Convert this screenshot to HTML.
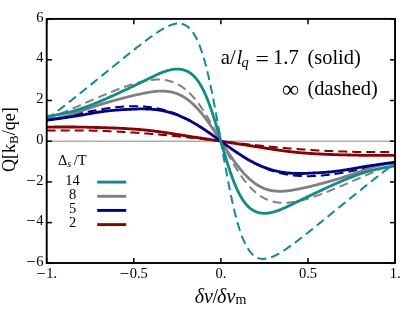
<!DOCTYPE html>
<html><head><meta charset="utf-8"><title>plot</title>
<style>
html,body{margin:0;padding:0;background:#fff;}
body{width:415px;height:310px;overflow:hidden;}
svg{display:block;}
text{font-family:"Liberation Serif",serif;fill:#000;}
.txt{will-change:transform;}
.tk{font-size:14.5px;}
.it{font-style:italic;}
</style></head><body>
<svg width="415" height="310" viewBox="0 0 415 310">
<rect x="0" y="0" width="415" height="310" fill="#fff"/>
<line x1="46.7" y1="141.2" x2="395.1" y2="141.2" stroke="#848484" stroke-width="1"/>
<g>
<polyline points="46.7,130.6 47.1,130.5 47.6,130.5 48.0,130.5 48.4,130.5 48.9,130.5 49.3,130.5 49.7,130.5 50.2,130.5 50.6,130.5 51.1,130.5 51.5,130.5 51.9,130.5 52.4,130.5 52.8,130.5 53.2,130.4 53.7,130.4 54.1,130.4 54.5,130.4 55.0,130.4 55.4,130.4 55.8,130.4 56.3,130.4 56.7,130.4 57.2,130.4 57.6,130.4 58.0,130.4 58.5,130.4 58.9,130.4 59.3,130.4 59.8,130.4 60.2,130.4 60.6,130.4 61.1,130.4 61.5,130.4 61.9,130.4 62.4,130.4 62.8,130.4 63.2,130.4 63.7,130.4 64.1,130.4 64.6,130.4 65.0,130.4 65.4,130.4 65.9,130.4 66.3,130.4 66.7,130.4 67.2,130.4 67.6,130.4 68.0,130.4 68.5,130.4 68.9,130.4 69.3,130.4 69.8,130.4 70.2,130.4 70.7,130.4 71.1,130.4 71.5,130.4 72.0,130.4 72.4,130.4 72.8,130.4 73.3,130.4 73.7,130.4 74.1,130.4 74.6,130.4 75.0,130.4 75.4,130.4 75.9,130.4 76.3,130.4 76.7,130.4 77.2,130.4 77.6,130.4 78.1,130.4 78.5,130.4 78.9,130.4 79.4,130.4 79.8,130.4 80.2,130.4 80.7,130.4 81.1,130.4 81.5,130.5 82.0,130.5 82.4,130.5 82.8,130.5 83.3,130.5 83.7,130.5 84.2,130.5 84.6,130.5 85.0,130.5 85.5,130.5 85.9,130.5 86.3,130.5 86.8,130.5 87.2,130.5 87.6,130.6 88.1,130.6 88.5,130.6 88.9,130.6 89.4,130.6 89.8,130.6 90.3,130.6 90.7,130.6 91.1,130.6 91.6,130.6 92.0,130.7 92.4,130.7 92.9,130.7 93.3,130.7 93.7,130.7 94.2,130.7 94.6,130.7 95.0,130.7 95.5,130.7 95.9,130.8 96.3,130.8 96.8,130.8 97.2,130.8 97.7,130.8 98.1,130.8 98.5,130.8 99.0,130.8 99.4,130.9 99.8,130.9 100.3,130.9 100.7,130.9 101.1,130.9 101.6,130.9 102.0,130.9 102.4,131.0 102.9,131.0 103.3,131.0 103.8,131.0 104.2,131.0 104.6,131.0 105.1,131.1 105.5,131.1 105.9,131.1 106.4,131.1 106.8,131.1 107.2,131.1 107.7,131.2 108.1,131.2 108.5,131.2 109.0,131.2 109.4,131.2 109.8,131.3 110.3,131.3 110.7,131.3 111.2,131.3 111.6,131.3 112.0,131.3 112.5,131.4 112.9,131.4 113.3,131.4 113.8,131.4 114.2,131.4 114.6,131.5 115.1,131.5 115.5,131.5 115.9,131.5 116.4,131.6 116.8,131.6 117.3,131.6 117.7,131.6 118.1,131.6 118.6,131.7 119.0,131.7 119.4,131.7 119.9,131.7 120.3,131.8 120.7,131.8 121.2,131.8 121.6,131.8 122.0,131.8 122.5,131.9 122.9,131.9 123.3,131.9 123.8,131.9 124.2,132.0 124.7,132.0 125.1,132.0 125.5,132.0 126.0,132.1 126.4,132.1 126.8,132.1 127.3,132.2 127.7,132.2 128.1,132.2 128.6,132.2 129.0,132.3 129.4,132.3 129.9,132.3 130.3,132.3 130.8,132.4 131.2,132.4 131.6,132.4 132.1,132.5 132.5,132.5 132.9,132.5 133.4,132.5 133.8,132.6 134.2,132.6 134.7,132.6 135.1,132.7 135.5,132.7 136.0,132.7 136.4,132.7 136.8,132.8 137.3,132.8 137.7,132.8 138.2,132.9 138.6,132.9 139.0,132.9 139.5,133.0 139.9,133.0 140.3,133.0 140.8,133.1 141.2,133.1 141.6,133.1 142.1,133.2 142.5,133.2 142.9,133.2 143.4,133.3 143.8,133.3 144.3,133.3 144.7,133.4 145.1,133.4 145.6,133.4 146.0,133.5 146.4,133.5 146.9,133.5 147.3,133.6 147.7,133.6 148.2,133.6 148.6,133.7 149.0,133.7 149.5,133.7 149.9,133.8 150.3,133.8 150.8,133.8 151.2,133.9 151.7,133.9 152.1,133.9 152.5,134.0 153.0,134.0 153.4,134.1 153.8,134.1 154.3,134.1 154.7,134.2 155.1,134.2 155.6,134.2 156.0,134.3 156.4,134.3 156.9,134.4 157.3,134.4 157.8,134.4 158.2,134.5 158.6,134.5 159.1,134.6 159.5,134.6 159.9,134.6 160.4,134.7 160.8,134.7 161.2,134.8 161.7,134.8 162.1,134.8 162.5,134.9 163.0,134.9 163.4,135.0 163.8,135.0 164.3,135.0 164.7,135.1 165.2,135.1 165.6,135.2 166.0,135.2 166.5,135.2 166.9,135.3 167.3,135.3 167.8,135.4 168.2,135.4 168.6,135.4 169.1,135.5 169.5,135.5 169.9,135.6 170.4,135.6 170.8,135.7 171.3,135.7 171.7,135.7 172.1,135.8 172.6,135.8 173.0,135.9 173.4,135.9 173.9,136.0 174.3,136.0 174.7,136.1 175.2,136.1 175.6,136.1 176.0,136.2 176.5,136.2 176.9,136.3 177.4,136.3 177.8,136.4 178.2,136.4 178.7,136.5 179.1,136.5 179.5,136.5 180.0,136.6 180.4,136.6 180.8,136.7 181.3,136.7 181.7,136.8 182.1,136.8 182.6,136.9 183.0,136.9 183.4,137.0 183.9,137.0 184.3,137.0 184.8,137.1 185.2,137.1 185.6,137.2 186.1,137.2 186.5,137.3 186.9,137.3 187.4,137.4 187.8,137.4 188.2,137.5 188.7,137.5 189.1,137.6 189.5,137.6 190.0,137.7 190.4,137.7 190.9,137.8 191.3,137.8 191.7,137.9 192.2,137.9 192.6,138.0 193.0,138.0 193.5,138.0 193.9,138.1 194.3,138.1 194.8,138.2 195.2,138.2 195.6,138.3 196.1,138.3 196.5,138.4 196.9,138.4 197.4,138.5 197.8,138.5 198.3,138.6 198.7,138.6 199.1,138.7 199.6,138.7 200.0,138.8 200.4,138.8 200.9,138.9 201.3,138.9 201.7,139.0 202.2,139.0 202.6,139.1 203.0,139.1 203.5,139.2 203.9,139.2 204.4,139.3 204.8,139.3 205.2,139.4 205.7,139.4 206.1,139.5 206.5,139.5 207.0,139.6 207.4,139.6 207.8,139.7 208.3,139.7 208.7,139.8 209.1,139.8 209.6,139.9 210.0,139.9 210.4,140.0 210.9,140.0 211.3,140.1 211.8,140.1 212.2,140.2 212.6,140.2 213.1,140.3 213.5,140.3 213.9,140.4 214.4,140.4 214.8,140.5 215.2,140.5 215.7,140.6 216.1,140.6 216.5,140.7 217.0,140.7 217.4,140.8 217.9,140.8 218.3,140.9 218.7,140.9 219.2,141.0 219.6,141.0 220.0,141.1 220.5,141.1 220.9,141.2 221.3,141.3 221.8,141.3 222.2,141.4 222.6,141.4 223.1,141.5 223.5,141.5 223.9,141.6 224.4,141.6 224.8,141.7 225.3,141.7 225.7,141.8 226.1,141.8 226.6,141.9 227.0,141.9 227.4,142.0 227.9,142.0 228.3,142.1 228.7,142.1 229.2,142.2 229.6,142.2 230.0,142.3 230.5,142.3 230.9,142.4 231.4,142.4 231.8,142.5 232.2,142.5 232.7,142.6 233.1,142.6 233.5,142.7 234.0,142.7 234.4,142.8 234.8,142.8 235.3,142.9 235.7,142.9 236.1,143.0 236.6,143.0 237.0,143.1 237.4,143.1 237.9,143.2 238.3,143.2 238.8,143.3 239.2,143.3 239.6,143.4 240.1,143.4 240.5,143.5 240.9,143.5 241.4,143.6 241.8,143.6 242.2,143.7 242.7,143.7 243.1,143.8 243.5,143.8 244.0,143.9 244.4,143.9 244.9,144.0 245.3,144.0 245.7,144.1 246.2,144.1 246.6,144.2 247.0,144.2 247.5,144.3 247.9,144.3 248.3,144.4 248.8,144.4 249.2,144.4 249.6,144.5 250.1,144.5 250.5,144.6 250.9,144.6 251.4,144.7 251.8,144.7 252.3,144.8 252.7,144.8 253.1,144.9 253.6,144.9 254.0,145.0 254.4,145.0 254.9,145.1 255.3,145.1 255.7,145.2 256.2,145.2 256.6,145.3 257.0,145.3 257.5,145.4 257.9,145.4 258.4,145.4 258.8,145.5 259.2,145.5 259.7,145.6 260.1,145.6 260.5,145.7 261.0,145.7 261.4,145.8 261.8,145.8 262.3,145.9 262.7,145.9 263.1,145.9 263.6,146.0 264.0,146.0 264.4,146.1 264.9,146.1 265.3,146.2 265.8,146.2 266.2,146.3 266.6,146.3 267.1,146.3 267.5,146.4 267.9,146.4 268.4,146.5 268.8,146.5 269.2,146.6 269.7,146.6 270.1,146.7 270.5,146.7 271.0,146.7 271.4,146.8 271.9,146.8 272.3,146.9 272.7,146.9 273.2,147.0 273.6,147.0 274.0,147.0 274.5,147.1 274.9,147.1 275.3,147.2 275.8,147.2 276.2,147.2 276.6,147.3 277.1,147.3 277.5,147.4 278.0,147.4 278.4,147.4 278.8,147.5 279.3,147.5 279.7,147.6 280.1,147.6 280.6,147.6 281.0,147.7 281.4,147.7 281.9,147.8 282.3,147.8 282.7,147.8 283.2,147.9 283.6,147.9 284.0,148.0 284.5,148.0 284.9,148.0 285.4,148.1 285.8,148.1 286.2,148.2 286.7,148.2 287.1,148.2 287.5,148.3 288.0,148.3 288.4,148.3 288.8,148.4 289.3,148.4 289.7,148.5 290.1,148.5 290.6,148.5 291.0,148.6 291.5,148.6 291.9,148.6 292.3,148.7 292.8,148.7 293.2,148.7 293.6,148.8 294.1,148.8 294.5,148.8 294.9,148.9 295.4,148.9 295.8,148.9 296.2,149.0 296.7,149.0 297.1,149.0 297.5,149.1 298.0,149.1 298.4,149.1 298.9,149.2 299.3,149.2 299.7,149.2 300.2,149.3 300.6,149.3 301.0,149.3 301.5,149.4 301.9,149.4 302.3,149.4 302.8,149.5 303.2,149.5 303.6,149.5 304.1,149.6 304.5,149.6 305.0,149.6 305.4,149.7 305.8,149.7 306.3,149.7 306.7,149.7 307.1,149.8 307.6,149.8 308.0,149.8 308.4,149.9 308.9,149.9 309.3,149.9 309.7,149.9 310.2,150.0 310.6,150.0 311.0,150.0 311.5,150.1 311.9,150.1 312.4,150.1 312.8,150.1 313.2,150.2 313.7,150.2 314.1,150.2 314.5,150.2 315.0,150.3 315.4,150.3 315.8,150.3 316.3,150.4 316.7,150.4 317.1,150.4 317.6,150.4 318.0,150.5 318.5,150.5 318.9,150.5 319.3,150.5 319.8,150.6 320.2,150.6 320.6,150.6 321.1,150.6 321.5,150.6 321.9,150.7 322.4,150.7 322.8,150.7 323.2,150.7 323.7,150.8 324.1,150.8 324.5,150.8 325.0,150.8 325.4,150.8 325.9,150.9 326.3,150.9 326.7,150.9 327.2,150.9 327.6,151.0 328.0,151.0 328.5,151.0 328.9,151.0 329.3,151.0 329.8,151.1 330.2,151.1 330.6,151.1 331.1,151.1 331.5,151.1 332.0,151.1 332.4,151.2 332.8,151.2 333.3,151.2 333.7,151.2 334.1,151.2 334.6,151.3 335.0,151.3 335.4,151.3 335.9,151.3 336.3,151.3 336.7,151.3 337.2,151.4 337.6,151.4 338.0,151.4 338.5,151.4 338.9,151.4 339.4,151.4 339.8,151.5 340.2,151.5 340.7,151.5 341.1,151.5 341.5,151.5 342.0,151.5 342.4,151.5 342.8,151.6 343.3,151.6 343.7,151.6 344.1,151.6 344.6,151.6 345.0,151.6 345.5,151.6 345.9,151.6 346.3,151.7 346.8,151.7 347.2,151.7 347.6,151.7 348.1,151.7 348.5,151.7 348.9,151.7 349.4,151.7 349.8,151.7 350.2,151.8 350.7,151.8 351.1,151.8 351.5,151.8 352.0,151.8 352.4,151.8 352.9,151.8 353.3,151.8 353.7,151.8 354.2,151.8 354.6,151.9 355.0,151.9 355.5,151.9 355.9,151.9 356.3,151.9 356.8,151.9 357.2,151.9 357.6,151.9 358.1,151.9 358.5,151.9 359.0,151.9 359.4,151.9 359.8,151.9 360.3,151.9 360.7,152.0 361.1,152.0 361.6,152.0 362.0,152.0 362.4,152.0 362.9,152.0 363.3,152.0 363.7,152.0 364.2,152.0 364.6,152.0 365.1,152.0 365.5,152.0 365.9,152.0 366.4,152.0 366.8,152.0 367.2,152.0 367.7,152.0 368.1,152.0 368.5,152.0 369.0,152.0 369.4,152.0 369.8,152.0 370.3,152.0 370.7,152.0 371.1,152.0 371.6,152.0 372.0,152.0 372.5,152.0 372.9,152.0 373.3,152.0 373.8,152.0 374.2,152.0 374.6,152.0 375.1,152.0 375.5,152.0 375.9,152.0 376.4,152.0 376.8,152.0 377.2,152.0 377.7,152.0 378.1,152.0 378.6,152.0 379.0,152.0 379.4,152.0 379.9,152.0 380.3,152.0 380.7,152.0 381.2,152.0 381.6,152.0 382.0,152.0 382.5,152.0 382.9,152.0 383.3,152.0 383.8,152.0 384.2,152.0 384.6,152.0 385.1,152.0 385.5,152.0 386.0,152.0 386.4,152.0 386.8,152.0 387.3,152.0 387.7,152.0 388.1,152.0 388.6,152.0 389.0,151.9 389.4,151.9 389.9,151.9 390.3,151.9 390.7,151.9 391.2,151.9 391.6,151.9 392.1,151.9 392.5,151.9 392.9,151.9 393.4,151.9 393.8,151.9 394.2,151.9 394.7,151.9 395.1,151.8" fill="none" stroke="#8b0000" stroke-width="2.0" stroke-dasharray="9 5"/>
<polyline points="46.7,118.9 47.1,118.7 47.6,118.6 48.0,118.4 48.4,118.3 48.9,118.1 49.3,118.0 49.7,117.8 50.2,117.6 50.6,117.5 51.1,117.3 51.5,117.2 51.9,117.0 52.4,116.8 52.8,116.7 53.2,116.5 53.7,116.3 54.1,116.2 54.5,116.0 55.0,115.8 55.4,115.6 55.8,115.5 56.3,115.3 56.7,115.1 57.2,115.0 57.6,114.8 58.0,114.6 58.5,114.4 58.9,114.3 59.3,114.1 59.8,113.9 60.2,113.7 60.6,113.6 61.1,113.4 61.5,113.2 61.9,113.0 62.4,112.8 62.8,112.7 63.2,112.5 63.7,112.3 64.1,112.1 64.6,111.9 65.0,111.7 65.4,111.6 65.9,111.4 66.3,111.2 66.7,111.0 67.2,110.8 67.6,110.6 68.0,110.5 68.5,110.3 68.9,110.1 69.3,109.9 69.8,109.7 70.2,109.5 70.7,109.3 71.1,109.2 71.5,109.0 72.0,108.8 72.4,108.6 72.8,108.4 73.3,108.2 73.7,108.0 74.1,107.8 74.6,107.7 75.0,107.5 75.4,107.3 75.9,107.1 76.3,106.9 76.7,106.7 77.2,106.5 77.6,106.3 78.1,106.1 78.5,106.0 78.9,105.8 79.4,105.6 79.8,105.4 80.2,105.2 80.7,105.0 81.1,104.8 81.5,104.6 82.0,104.4 82.4,104.3 82.8,104.1 83.3,103.9 83.7,103.7 84.2,103.5 84.6,103.3 85.0,103.1 85.5,102.9 85.9,102.7 86.3,102.5 86.8,102.4 87.2,102.2 87.6,102.0 88.1,101.8 88.5,101.6 88.9,101.4 89.4,101.2 89.8,101.0 90.3,100.8 90.7,100.6 91.1,100.5 91.6,100.3 92.0,100.1 92.4,99.9 92.9,99.7 93.3,99.5 93.7,99.3 94.2,99.1 94.6,98.9 95.0,98.8 95.5,98.6 95.9,98.4 96.3,98.2 96.8,98.0 97.2,97.8 97.7,97.6 98.1,97.5 98.5,97.3 99.0,97.1 99.4,96.9 99.8,96.7 100.3,96.5 100.7,96.3 101.1,96.2 101.6,96.0 102.0,95.8 102.4,95.6 102.9,95.4 103.3,95.2 103.8,95.0 104.2,94.9 104.6,94.7 105.1,94.5 105.5,94.3 105.9,94.1 106.4,94.0 106.8,93.8 107.2,93.6 107.7,93.4 108.1,93.2 108.5,93.1 109.0,92.9 109.4,92.7 109.8,92.5 110.3,92.3 110.7,92.2 111.2,92.0 111.6,91.8 112.0,91.6 112.5,91.5 112.9,91.3 113.3,91.1 113.8,90.9 114.2,90.8 114.6,90.6 115.1,90.4 115.5,90.3 115.9,90.1 116.4,89.9 116.8,89.7 117.3,89.6 117.7,89.4 118.1,89.2 118.6,89.1 119.0,88.9 119.4,88.7 119.9,88.6 120.3,88.4 120.7,88.3 121.2,88.1 121.6,87.9 122.0,87.8 122.5,87.6 122.9,87.4 123.3,87.3 123.8,87.1 124.2,87.0 124.7,86.8 125.1,86.7 125.5,86.5 126.0,86.4 126.4,86.2 126.8,86.1 127.3,85.9 127.7,85.8 128.1,85.6 128.6,85.5 129.0,85.3 129.4,85.2 129.9,85.0 130.3,84.9 130.8,84.7 131.2,84.6 131.6,84.5 132.1,84.3 132.5,84.2 132.9,84.1 133.4,83.9 133.8,83.8 134.2,83.7 134.7,83.5 135.1,83.4 135.5,83.3 136.0,83.2 136.4,83.0 136.8,82.9 137.3,82.8 137.7,82.7 138.2,82.6 138.6,82.4 139.0,82.3 139.5,82.2 139.9,82.1 140.3,82.0 140.8,81.9 141.2,81.8 141.6,81.7 142.1,81.6 142.5,81.5 142.9,81.4 143.4,81.3 143.8,81.2 144.3,81.1 144.7,81.0 145.1,80.9 145.6,80.8 146.0,80.8 146.4,80.7 146.9,80.6 147.3,80.5 147.7,80.5 148.2,80.4 148.6,80.3 149.0,80.3 149.5,80.2 149.9,80.1 150.3,80.1 150.8,80.0 151.2,80.0 151.7,79.9 152.1,79.9 152.5,79.8 153.0,79.8 153.4,79.8 153.8,79.7 154.3,79.7 154.7,79.7 155.1,79.6 155.6,79.6 156.0,79.6 156.4,79.6 156.9,79.6 157.3,79.6 157.8,79.6 158.2,79.6 158.6,79.6 159.1,79.6 159.5,79.6 159.9,79.6 160.4,79.6 160.8,79.6 161.2,79.7 161.7,79.7 162.1,79.7 162.5,79.8 163.0,79.8 163.4,79.9 163.8,79.9 164.3,80.0 164.7,80.0 165.2,80.1 165.6,80.2 166.0,80.2 166.5,80.3 166.9,80.4 167.3,80.5 167.8,80.6 168.2,80.7 168.6,80.8 169.1,80.9 169.5,81.0 169.9,81.1 170.4,81.3 170.8,81.4 171.3,81.5 171.7,81.7 172.1,81.8 172.6,82.0 173.0,82.1 173.4,82.3 173.9,82.5 174.3,82.6 174.7,82.8 175.2,83.0 175.6,83.2 176.0,83.4 176.5,83.6 176.9,83.8 177.4,84.1 177.8,84.3 178.2,84.5 178.7,84.8 179.1,85.0 179.5,85.3 180.0,85.5 180.4,85.8 180.8,86.1 181.3,86.3 181.7,86.6 182.1,86.9 182.6,87.2 183.0,87.5 183.4,87.9 183.9,88.2 184.3,88.5 184.8,88.9 185.2,89.2 185.6,89.6 186.1,89.9 186.5,90.3 186.9,90.7 187.4,91.0 187.8,91.4 188.2,91.8 188.7,92.2 189.1,92.7 189.5,93.1 190.0,93.5 190.4,94.0 190.9,94.4 191.3,94.9 191.7,95.3 192.2,95.8 192.6,96.3 193.0,96.7 193.5,97.2 193.9,97.7 194.3,98.2 194.8,98.8 195.2,99.3 195.6,99.8 196.1,100.4 196.5,100.9 196.9,101.5 197.4,102.0 197.8,102.6 198.3,103.2 198.7,103.8 199.1,104.4 199.6,105.0 200.0,105.6 200.4,106.2 200.9,106.8 201.3,107.4 201.7,108.1 202.2,108.7 202.6,109.4 203.0,110.0 203.5,110.7 203.9,111.4 204.4,112.0 204.8,112.7 205.2,113.4 205.7,114.1 206.1,114.8 206.5,115.5 207.0,116.2 207.4,116.9 207.8,117.7 208.3,118.4 208.7,119.1 209.1,119.9 209.6,120.6 210.0,121.4 210.4,122.1 210.9,122.9 211.3,123.6 211.8,124.4 212.2,125.2 212.6,126.0 213.1,126.7 213.5,127.5 213.9,128.3 214.4,129.1 214.8,129.9 215.2,130.7 215.7,131.5 216.1,132.3 216.5,133.1 217.0,133.9 217.4,134.7 217.9,135.5 218.3,136.3 218.7,137.1 219.2,137.9 219.6,138.8 220.0,139.6 220.5,140.4 220.9,141.2 221.3,142.0 221.8,142.8 222.2,143.6 222.6,144.5 223.1,145.3 223.5,146.1 223.9,146.9 224.4,147.7 224.8,148.5 225.3,149.3 225.7,150.1 226.1,150.9 226.6,151.7 227.0,152.5 227.4,153.3 227.9,154.1 228.3,154.9 228.7,155.7 229.2,156.4 229.6,157.2 230.0,158.0 230.5,158.8 230.9,159.5 231.4,160.3 231.8,161.0 232.2,161.8 232.7,162.5 233.1,163.3 233.5,164.0 234.0,164.7 234.4,165.5 234.8,166.2 235.3,166.9 235.7,167.6 236.1,168.3 236.6,169.0 237.0,169.7 237.4,170.4 237.9,171.0 238.3,171.7 238.8,172.4 239.2,173.0 239.6,173.7 240.1,174.3 240.5,175.0 240.9,175.6 241.4,176.2 241.8,176.8 242.2,177.4 242.7,178.0 243.1,178.6 243.5,179.2 244.0,179.8 244.4,180.4 244.9,180.9 245.3,181.5 245.7,182.0 246.2,182.6 246.6,183.1 247.0,183.6 247.5,184.2 247.9,184.7 248.3,185.2 248.8,185.7 249.2,186.1 249.6,186.6 250.1,187.1 250.5,187.5 250.9,188.0 251.4,188.4 251.8,188.9 252.3,189.3 252.7,189.7 253.1,190.2 253.6,190.6 254.0,191.0 254.4,191.4 254.9,191.7 255.3,192.1 255.7,192.5 256.2,192.8 256.6,193.2 257.0,193.5 257.5,193.9 257.9,194.2 258.4,194.5 258.8,194.9 259.2,195.2 259.7,195.5 260.1,195.8 260.5,196.1 261.0,196.3 261.4,196.6 261.8,196.9 262.3,197.1 262.7,197.4 263.1,197.6 263.6,197.9 264.0,198.1 264.4,198.3 264.9,198.6 265.3,198.8 265.8,199.0 266.2,199.2 266.6,199.4 267.1,199.6 267.5,199.8 267.9,199.9 268.4,200.1 268.8,200.3 269.2,200.4 269.7,200.6 270.1,200.7 270.5,200.9 271.0,201.0 271.4,201.1 271.9,201.3 272.3,201.4 272.7,201.5 273.2,201.6 273.6,201.7 274.0,201.8 274.5,201.9 274.9,202.0 275.3,202.1 275.8,202.2 276.2,202.2 276.6,202.3 277.1,202.4 277.5,202.4 278.0,202.5 278.4,202.5 278.8,202.6 279.3,202.6 279.7,202.7 280.1,202.7 280.6,202.7 281.0,202.8 281.4,202.8 281.9,202.8 282.3,202.8 282.7,202.8 283.2,202.8 283.6,202.8 284.0,202.8 284.5,202.8 284.9,202.8 285.4,202.8 285.8,202.8 286.2,202.8 286.7,202.8 287.1,202.7 287.5,202.7 288.0,202.7 288.4,202.6 288.8,202.6 289.3,202.6 289.7,202.5 290.1,202.5 290.6,202.4 291.0,202.4 291.5,202.3 291.9,202.3 292.3,202.2 292.8,202.1 293.2,202.1 293.6,202.0 294.1,201.9 294.5,201.9 294.9,201.8 295.4,201.7 295.8,201.6 296.2,201.6 296.7,201.5 297.1,201.4 297.5,201.3 298.0,201.2 298.4,201.1 298.9,201.0 299.3,200.9 299.7,200.8 300.2,200.7 300.6,200.6 301.0,200.5 301.5,200.4 301.9,200.3 302.3,200.2 302.8,200.1 303.2,200.0 303.6,199.8 304.1,199.7 304.5,199.6 305.0,199.5 305.4,199.4 305.8,199.2 306.3,199.1 306.7,199.0 307.1,198.9 307.6,198.7 308.0,198.6 308.4,198.5 308.9,198.3 309.3,198.2 309.7,198.1 310.2,197.9 310.6,197.8 311.0,197.7 311.5,197.5 311.9,197.4 312.4,197.2 312.8,197.1 313.2,196.9 313.7,196.8 314.1,196.6 314.5,196.5 315.0,196.3 315.4,196.2 315.8,196.0 316.3,195.9 316.7,195.7 317.1,195.6 317.6,195.4 318.0,195.3 318.5,195.1 318.9,195.0 319.3,194.8 319.8,194.6 320.2,194.5 320.6,194.3 321.1,194.1 321.5,194.0 321.9,193.8 322.4,193.7 322.8,193.5 323.2,193.3 323.7,193.2 324.1,193.0 324.5,192.8 325.0,192.7 325.4,192.5 325.9,192.3 326.3,192.1 326.7,192.0 327.2,191.8 327.6,191.6 328.0,191.5 328.5,191.3 328.9,191.1 329.3,190.9 329.8,190.8 330.2,190.6 330.6,190.4 331.1,190.2 331.5,190.1 332.0,189.9 332.4,189.7 332.8,189.5 333.3,189.3 333.7,189.2 334.1,189.0 334.6,188.8 335.0,188.6 335.4,188.4 335.9,188.3 336.3,188.1 336.7,187.9 337.2,187.7 337.6,187.5 338.0,187.4 338.5,187.2 338.9,187.0 339.4,186.8 339.8,186.6 340.2,186.4 340.7,186.2 341.1,186.1 341.5,185.9 342.0,185.7 342.4,185.5 342.8,185.3 343.3,185.1 343.7,184.9 344.1,184.8 344.6,184.6 345.0,184.4 345.5,184.2 345.9,184.0 346.3,183.8 346.8,183.6 347.2,183.5 347.6,183.3 348.1,183.1 348.5,182.9 348.9,182.7 349.4,182.5 349.8,182.3 350.2,182.1 350.7,181.9 351.1,181.8 351.5,181.6 352.0,181.4 352.4,181.2 352.9,181.0 353.3,180.8 353.7,180.6 354.2,180.4 354.6,180.2 355.0,180.0 355.5,179.9 355.9,179.7 356.3,179.5 356.8,179.3 357.2,179.1 357.6,178.9 358.1,178.7 358.5,178.5 359.0,178.3 359.4,178.1 359.8,178.0 360.3,177.8 360.7,177.6 361.1,177.4 361.6,177.2 362.0,177.0 362.4,176.8 362.9,176.6 363.3,176.4 363.7,176.3 364.2,176.1 364.6,175.9 365.1,175.7 365.5,175.5 365.9,175.3 366.4,175.1 366.8,174.9 367.2,174.7 367.7,174.6 368.1,174.4 368.5,174.2 369.0,174.0 369.4,173.8 369.8,173.6 370.3,173.4 370.7,173.2 371.1,173.1 371.6,172.9 372.0,172.7 372.5,172.5 372.9,172.3 373.3,172.1 373.8,171.9 374.2,171.8 374.6,171.6 375.1,171.4 375.5,171.2 375.9,171.0 376.4,170.8 376.8,170.7 377.2,170.5 377.7,170.3 378.1,170.1 378.6,169.9 379.0,169.7 379.4,169.6 379.9,169.4 380.3,169.2 380.7,169.0 381.2,168.8 381.6,168.7 382.0,168.5 382.5,168.3 382.9,168.1 383.3,168.0 383.8,167.8 384.2,167.6 384.6,167.4 385.1,167.3 385.5,167.1 386.0,166.9 386.4,166.8 386.8,166.6 387.3,166.4 387.7,166.2 388.1,166.1 388.6,165.9 389.0,165.7 389.4,165.6 389.9,165.4 390.3,165.2 390.7,165.1 391.2,164.9 391.6,164.8 392.1,164.6 392.5,164.4 392.9,164.3 393.4,164.1 393.8,164.0 394.2,163.8 394.7,163.7 395.1,163.5" fill="none" stroke="#808080" stroke-width="2.0" stroke-dasharray="9 5"/>
<polyline points="46.7,120.4 47.1,120.3 47.6,120.2 48.0,120.1 48.4,120.1 48.9,120.0 49.3,119.9 49.7,119.8 50.2,119.7 50.6,119.6 51.1,119.5 51.5,119.5 51.9,119.4 52.4,119.3 52.8,119.2 53.2,119.1 53.7,119.0 54.1,118.9 54.5,118.8 55.0,118.8 55.4,118.7 55.8,118.6 56.3,118.5 56.7,118.4 57.2,118.3 57.6,118.2 58.0,118.1 58.5,118.0 58.9,117.9 59.3,117.8 59.8,117.7 60.2,117.7 60.6,117.6 61.1,117.5 61.5,117.4 61.9,117.3 62.4,117.2 62.8,117.1 63.2,117.0 63.7,116.9 64.1,116.8 64.6,116.7 65.0,116.6 65.4,116.5 65.9,116.4 66.3,116.3 66.7,116.2 67.2,116.1 67.6,116.0 68.0,115.9 68.5,115.9 68.9,115.8 69.3,115.7 69.8,115.6 70.2,115.5 70.7,115.4 71.1,115.3 71.5,115.2 72.0,115.1 72.4,115.0 72.8,114.9 73.3,114.8 73.7,114.7 74.1,114.6 74.6,114.5 75.0,114.4 75.4,114.3 75.9,114.2 76.3,114.2 76.7,114.1 77.2,114.0 77.6,113.9 78.1,113.8 78.5,113.7 78.9,113.6 79.4,113.5 79.8,113.4 80.2,113.3 80.7,113.2 81.1,113.1 81.5,113.0 82.0,113.0 82.4,112.9 82.8,112.8 83.3,112.7 83.7,112.6 84.2,112.5 84.6,112.4 85.0,112.3 85.5,112.2 85.9,112.1 86.3,112.1 86.8,112.0 87.2,111.9 87.6,111.8 88.1,111.7 88.5,111.6 88.9,111.5 89.4,111.5 89.8,111.4 90.3,111.3 90.7,111.2 91.1,111.1 91.6,111.0 92.0,111.0 92.4,110.9 92.9,110.8 93.3,110.7 93.7,110.6 94.2,110.5 94.6,110.5 95.0,110.4 95.5,110.3 95.9,110.2 96.3,110.2 96.8,110.1 97.2,110.0 97.7,109.9 98.1,109.8 98.5,109.8 99.0,109.7 99.4,109.6 99.8,109.5 100.3,109.5 100.7,109.4 101.1,109.3 101.6,109.3 102.0,109.2 102.4,109.1 102.9,109.0 103.3,109.0 103.8,108.9 104.2,108.8 104.6,108.8 105.1,108.7 105.5,108.6 105.9,108.6 106.4,108.5 106.8,108.4 107.2,108.4 107.7,108.3 108.1,108.3 108.5,108.2 109.0,108.1 109.4,108.1 109.8,108.0 110.3,108.0 110.7,107.9 111.2,107.8 111.6,107.8 112.0,107.7 112.5,107.7 112.9,107.6 113.3,107.6 113.8,107.5 114.2,107.5 114.6,107.4 115.1,107.4 115.5,107.3 115.9,107.3 116.4,107.2 116.8,107.2 117.3,107.1 117.7,107.1 118.1,107.1 118.6,107.0 119.0,107.0 119.4,106.9 119.9,106.9 120.3,106.9 120.7,106.8 121.2,106.8 121.6,106.7 122.0,106.7 122.5,106.7 122.9,106.6 123.3,106.6 123.8,106.6 124.2,106.6 124.7,106.5 125.1,106.5 125.5,106.5 126.0,106.4 126.4,106.4 126.8,106.4 127.3,106.4 127.7,106.4 128.1,106.3 128.6,106.3 129.0,106.3 129.4,106.3 129.9,106.3 130.3,106.3 130.8,106.3 131.2,106.2 131.6,106.2 132.1,106.2 132.5,106.2 132.9,106.2 133.4,106.2 133.8,106.2 134.2,106.2 134.7,106.2 135.1,106.2 135.5,106.2 136.0,106.2 136.4,106.2 136.8,106.2 137.3,106.2 137.7,106.2 138.2,106.3 138.6,106.3 139.0,106.3 139.5,106.3 139.9,106.3 140.3,106.3 140.8,106.4 141.2,106.4 141.6,106.4 142.1,106.4 142.5,106.4 142.9,106.5 143.4,106.5 143.8,106.5 144.3,106.6 144.7,106.6 145.1,106.6 145.6,106.7 146.0,106.7 146.4,106.7 146.9,106.8 147.3,106.8 147.7,106.9 148.2,106.9 148.6,107.0 149.0,107.0 149.5,107.1 149.9,107.1 150.3,107.2 150.8,107.2 151.2,107.3 151.7,107.4 152.1,107.4 152.5,107.5 153.0,107.6 153.4,107.6 153.8,107.7 154.3,107.8 154.7,107.8 155.1,107.9 155.6,108.0 156.0,108.1 156.4,108.2 156.9,108.2 157.3,108.3 157.8,108.4 158.2,108.5 158.6,108.6 159.1,108.7 159.5,108.8 159.9,108.9 160.4,109.0 160.8,109.1 161.2,109.2 161.7,109.3 162.1,109.4 162.5,109.5 163.0,109.6 163.4,109.7 163.8,109.8 164.3,109.9 164.7,110.1 165.2,110.2 165.6,110.3 166.0,110.4 166.5,110.6 166.9,110.7 167.3,110.8 167.8,111.0 168.2,111.1 168.6,111.2 169.1,111.4 169.5,111.5 169.9,111.6 170.4,111.8 170.8,111.9 171.3,112.1 171.7,112.2 172.1,112.4 172.6,112.6 173.0,112.7 173.4,112.9 173.9,113.0 174.3,113.2 174.7,113.4 175.2,113.5 175.6,113.7 176.0,113.9 176.5,114.1 176.9,114.2 177.4,114.4 177.8,114.6 178.2,114.8 178.7,115.0 179.1,115.2 179.5,115.3 180.0,115.5 180.4,115.7 180.8,115.9 181.3,116.1 181.7,116.3 182.1,116.5 182.6,116.7 183.0,116.9 183.4,117.2 183.9,117.4 184.3,117.6 184.8,117.8 185.2,118.0 185.6,118.2 186.1,118.5 186.5,118.7 186.9,118.9 187.4,119.1 187.8,119.4 188.2,119.6 188.7,119.8 189.1,120.1 189.5,120.3 190.0,120.5 190.4,120.8 190.9,121.0 191.3,121.3 191.7,121.5 192.2,121.8 192.6,122.0 193.0,122.3 193.5,122.5 193.9,122.8 194.3,123.0 194.8,123.3 195.2,123.6 195.6,123.8 196.1,124.1 196.5,124.4 196.9,124.6 197.4,124.9 197.8,125.2 198.3,125.4 198.7,125.7 199.1,126.0 199.6,126.3 200.0,126.6 200.4,126.8 200.9,127.1 201.3,127.4 201.7,127.7 202.2,128.0 202.6,128.3 203.0,128.6 203.5,128.8 203.9,129.1 204.4,129.4 204.8,129.7 205.2,130.0 205.7,130.3 206.1,130.6 206.5,130.9 207.0,131.2 207.4,131.5 207.8,131.8 208.3,132.1 208.7,132.4 209.1,132.7 209.6,133.0 210.0,133.3 210.4,133.6 210.9,134.0 211.3,134.3 211.8,134.6 212.2,134.9 212.6,135.2 213.1,135.5 213.5,135.8 213.9,136.1 214.4,136.4 214.8,136.8 215.2,137.1 215.7,137.4 216.1,137.7 216.5,138.0 217.0,138.3 217.4,138.7 217.9,139.0 218.3,139.3 218.7,139.6 219.2,139.9 219.6,140.2 220.0,140.6 220.5,140.9 220.9,141.2 221.3,141.5 221.8,141.8 222.2,142.2 222.6,142.5 223.1,142.8 223.5,143.1 223.9,143.4 224.4,143.7 224.8,144.1 225.3,144.4 225.7,144.7 226.1,145.0 226.6,145.3 227.0,145.6 227.4,146.0 227.9,146.3 228.3,146.6 228.7,146.9 229.2,147.2 229.6,147.5 230.0,147.8 230.5,148.1 230.9,148.4 231.4,148.8 231.8,149.1 232.2,149.4 232.7,149.7 233.1,150.0 233.5,150.3 234.0,150.6 234.4,150.9 234.8,151.2 235.3,151.5 235.7,151.8 236.1,152.1 236.6,152.4 237.0,152.7 237.4,153.0 237.9,153.3 238.3,153.6 238.8,153.8 239.2,154.1 239.6,154.4 240.1,154.7 240.5,155.0 240.9,155.3 241.4,155.6 241.8,155.8 242.2,156.1 242.7,156.4 243.1,156.7 243.5,157.0 244.0,157.2 244.4,157.5 244.9,157.8 245.3,158.0 245.7,158.3 246.2,158.6 246.6,158.8 247.0,159.1 247.5,159.4 247.9,159.6 248.3,159.9 248.8,160.1 249.2,160.4 249.6,160.6 250.1,160.9 250.5,161.1 250.9,161.4 251.4,161.6 251.8,161.9 252.3,162.1 252.7,162.3 253.1,162.6 253.6,162.8 254.0,163.0 254.4,163.3 254.9,163.5 255.3,163.7 255.7,163.9 256.2,164.2 256.6,164.4 257.0,164.6 257.5,164.8 257.9,165.0 258.4,165.2 258.8,165.5 259.2,165.7 259.7,165.9 260.1,166.1 260.5,166.3 261.0,166.5 261.4,166.7 261.8,166.9 262.3,167.1 262.7,167.2 263.1,167.4 263.6,167.6 264.0,167.8 264.4,168.0 264.9,168.2 265.3,168.3 265.8,168.5 266.2,168.7 266.6,168.9 267.1,169.0 267.5,169.2 267.9,169.4 268.4,169.5 268.8,169.7 269.2,169.8 269.7,170.0 270.1,170.2 270.5,170.3 271.0,170.5 271.4,170.6 271.9,170.8 272.3,170.9 272.7,171.0 273.2,171.2 273.6,171.3 274.0,171.4 274.5,171.6 274.9,171.7 275.3,171.8 275.8,172.0 276.2,172.1 276.6,172.2 277.1,172.3 277.5,172.5 278.0,172.6 278.4,172.7 278.8,172.8 279.3,172.9 279.7,173.0 280.1,173.1 280.6,173.2 281.0,173.3 281.4,173.4 281.9,173.5 282.3,173.6 282.7,173.7 283.2,173.8 283.6,173.9 284.0,174.0 284.5,174.1 284.9,174.2 285.4,174.2 285.8,174.3 286.2,174.4 286.7,174.5 287.1,174.6 287.5,174.6 288.0,174.7 288.4,174.8 288.8,174.8 289.3,174.9 289.7,175.0 290.1,175.0 290.6,175.1 291.0,175.2 291.5,175.2 291.9,175.3 292.3,175.3 292.8,175.4 293.2,175.4 293.6,175.5 294.1,175.5 294.5,175.6 294.9,175.6 295.4,175.7 295.8,175.7 296.2,175.7 296.7,175.8 297.1,175.8 297.5,175.8 298.0,175.9 298.4,175.9 298.9,175.9 299.3,176.0 299.7,176.0 300.2,176.0 300.6,176.0 301.0,176.0 301.5,176.1 301.9,176.1 302.3,176.1 302.8,176.1 303.2,176.1 303.6,176.1 304.1,176.2 304.5,176.2 305.0,176.2 305.4,176.2 305.8,176.2 306.3,176.2 306.7,176.2 307.1,176.2 307.6,176.2 308.0,176.2 308.4,176.2 308.9,176.2 309.3,176.2 309.7,176.2 310.2,176.2 310.6,176.2 311.0,176.1 311.5,176.1 311.9,176.1 312.4,176.1 312.8,176.1 313.2,176.1 313.7,176.1 314.1,176.0 314.5,176.0 315.0,176.0 315.4,176.0 315.8,176.0 316.3,175.9 316.7,175.9 317.1,175.9 317.6,175.8 318.0,175.8 318.5,175.8 318.9,175.8 319.3,175.7 319.8,175.7 320.2,175.7 320.6,175.6 321.1,175.6 321.5,175.5 321.9,175.5 322.4,175.5 322.8,175.4 323.2,175.4 323.7,175.3 324.1,175.3 324.5,175.3 325.0,175.2 325.4,175.2 325.9,175.1 326.3,175.1 326.7,175.0 327.2,175.0 327.6,174.9 328.0,174.9 328.5,174.8 328.9,174.8 329.3,174.7 329.8,174.7 330.2,174.6 330.6,174.6 331.1,174.5 331.5,174.4 332.0,174.4 332.4,174.3 332.8,174.3 333.3,174.2 333.7,174.1 334.1,174.1 334.6,174.0 335.0,174.0 335.4,173.9 335.9,173.8 336.3,173.8 336.7,173.7 337.2,173.6 337.6,173.6 338.0,173.5 338.5,173.4 338.9,173.4 339.4,173.3 339.8,173.2 340.2,173.1 340.7,173.1 341.1,173.0 341.5,172.9 342.0,172.9 342.4,172.8 342.8,172.7 343.3,172.6 343.7,172.6 344.1,172.5 344.6,172.4 345.0,172.3 345.5,172.2 345.9,172.2 346.3,172.1 346.8,172.0 347.2,171.9 347.6,171.9 348.1,171.8 348.5,171.7 348.9,171.6 349.4,171.5 349.8,171.4 350.2,171.4 350.7,171.3 351.1,171.2 351.5,171.1 352.0,171.0 352.4,170.9 352.9,170.9 353.3,170.8 353.7,170.7 354.2,170.6 354.6,170.5 355.0,170.4 355.5,170.3 355.9,170.3 356.3,170.2 356.8,170.1 357.2,170.0 357.6,169.9 358.1,169.8 358.5,169.7 359.0,169.6 359.4,169.5 359.8,169.4 360.3,169.4 360.7,169.3 361.1,169.2 361.6,169.1 362.0,169.0 362.4,168.9 362.9,168.8 363.3,168.7 363.7,168.6 364.2,168.5 364.6,168.4 365.1,168.3 365.5,168.2 365.9,168.2 366.4,168.1 366.8,168.0 367.2,167.9 367.7,167.8 368.1,167.7 368.5,167.6 369.0,167.5 369.4,167.4 369.8,167.3 370.3,167.2 370.7,167.1 371.1,167.0 371.6,166.9 372.0,166.8 372.5,166.7 372.9,166.6 373.3,166.5 373.8,166.5 374.2,166.4 374.6,166.3 375.1,166.2 375.5,166.1 375.9,166.0 376.4,165.9 376.8,165.8 377.2,165.7 377.7,165.6 378.1,165.5 378.6,165.4 379.0,165.3 379.4,165.2 379.9,165.1 380.3,165.0 380.7,164.9 381.2,164.8 381.6,164.7 382.0,164.7 382.5,164.6 382.9,164.5 383.3,164.4 383.8,164.3 384.2,164.2 384.6,164.1 385.1,164.0 385.5,163.9 386.0,163.8 386.4,163.7 386.8,163.6 387.3,163.6 387.7,163.5 388.1,163.4 388.6,163.3 389.0,163.2 389.4,163.1 389.9,163.0 390.3,162.9 390.7,162.9 391.2,162.8 391.6,162.7 392.1,162.6 392.5,162.5 392.9,162.4 393.4,162.3 393.8,162.3 394.2,162.2 394.7,162.1 395.1,162.0" fill="none" stroke="#00008b" stroke-width="2.0" stroke-dasharray="9 5"/>
<polyline points="46.7,119.2 47.1,118.9 47.6,118.6 48.0,118.3 48.4,118.0 48.9,117.6 49.3,117.3 49.7,117.0 50.2,116.7 50.6,116.3 51.1,116.0 51.5,115.7 51.9,115.4 52.4,115.0 52.8,114.7 53.2,114.4 53.7,114.1 54.1,113.7 54.5,113.4 55.0,113.1 55.4,112.7 55.8,112.4 56.3,112.1 56.7,111.7 57.2,111.4 57.6,111.1 58.0,110.7 58.5,110.4 58.9,110.1 59.3,109.7 59.8,109.4 60.2,109.1 60.6,108.7 61.1,108.4 61.5,108.0 61.9,107.7 62.4,107.4 62.8,107.0 63.2,106.7 63.7,106.3 64.1,106.0 64.6,105.7 65.0,105.3 65.4,105.0 65.9,104.6 66.3,104.3 66.7,104.0 67.2,103.6 67.6,103.3 68.0,102.9 68.5,102.6 68.9,102.2 69.3,101.9 69.8,101.5 70.2,101.2 70.7,100.9 71.1,100.5 71.5,100.2 72.0,99.8 72.4,99.5 72.8,99.1 73.3,98.8 73.7,98.4 74.1,98.1 74.6,97.7 75.0,97.4 75.4,97.0 75.9,96.7 76.3,96.3 76.7,96.0 77.2,95.6 77.6,95.3 78.1,94.9 78.5,94.6 78.9,94.2 79.4,93.9 79.8,93.5 80.2,93.2 80.7,92.8 81.1,92.5 81.5,92.1 82.0,91.8 82.4,91.4 82.8,91.1 83.3,90.7 83.7,90.4 84.2,90.0 84.6,89.7 85.0,89.3 85.5,89.0 85.9,88.6 86.3,88.3 86.8,87.9 87.2,87.6 87.6,87.2 88.1,86.9 88.5,86.5 88.9,86.2 89.4,85.8 89.8,85.5 90.3,85.1 90.7,84.8 91.1,84.4 91.6,84.1 92.0,83.7 92.4,83.3 92.9,83.0 93.3,82.6 93.7,82.3 94.2,81.9 94.6,81.6 95.0,81.2 95.5,80.9 95.9,80.5 96.3,80.2 96.8,79.8 97.2,79.5 97.7,79.1 98.1,78.8 98.5,78.4 99.0,78.1 99.4,77.7 99.8,77.3 100.3,77.0 100.7,76.6 101.1,76.3 101.6,75.9 102.0,75.6 102.4,75.2 102.9,74.9 103.3,74.5 103.8,74.2 104.2,73.8 104.6,73.5 105.1,73.1 105.5,72.7 105.9,72.4 106.4,72.0 106.8,71.7 107.2,71.3 107.7,71.0 108.1,70.6 108.5,70.3 109.0,69.9 109.4,69.6 109.8,69.2 110.3,68.9 110.7,68.5 111.2,68.2 111.6,67.8 112.0,67.4 112.5,67.1 112.9,66.7 113.3,66.4 113.8,66.0 114.2,65.7 114.6,65.3 115.1,65.0 115.5,64.6 115.9,64.3 116.4,63.9 116.8,63.6 117.3,63.2 117.7,62.9 118.1,62.5 118.6,62.2 119.0,61.8 119.4,61.4 119.9,61.1 120.3,60.7 120.7,60.4 121.2,60.0 121.6,59.7 122.0,59.3 122.5,59.0 122.9,58.6 123.3,58.3 123.8,57.9 124.2,57.6 124.7,57.2 125.1,56.9 125.5,56.5 126.0,56.2 126.4,55.8 126.8,55.5 127.3,55.1 127.7,54.8 128.1,54.4 128.6,54.1 129.0,53.7 129.4,53.4 129.9,53.0 130.3,52.7 130.8,52.3 131.2,52.0 131.6,51.6 132.1,51.3 132.5,50.9 132.9,50.6 133.4,50.3 133.8,49.9 134.2,49.6 134.7,49.2 135.1,48.9 135.5,48.5 136.0,48.2 136.4,47.8 136.8,47.5 137.3,47.2 137.7,46.8 138.2,46.5 138.6,46.1 139.0,45.8 139.5,45.5 139.9,45.1 140.3,44.8 140.8,44.4 141.2,44.1 141.6,43.8 142.1,43.4 142.5,43.1 142.9,42.8 143.4,42.4 143.8,42.1 144.3,41.8 144.7,41.4 145.1,41.1 145.6,40.8 146.0,40.4 146.4,40.1 146.9,39.8 147.3,39.5 147.7,39.1 148.2,38.8 148.6,38.5 149.0,38.2 149.5,37.8 149.9,37.5 150.3,37.2 150.8,36.9 151.2,36.6 151.7,36.3 152.1,36.0 152.5,35.6 153.0,35.3 153.4,35.0 153.8,34.7 154.3,34.4 154.7,34.1 155.1,33.8 155.6,33.5 156.0,33.2 156.4,32.9 156.9,32.6 157.3,32.3 157.8,32.1 158.2,31.8 158.6,31.5 159.1,31.2 159.5,30.9 159.9,30.7 160.4,30.4 160.8,30.1 161.2,29.9 161.7,29.6 162.1,29.3 162.5,29.1 163.0,28.8 163.4,28.6 163.8,28.3 164.3,28.1 164.7,27.9 165.2,27.6 165.6,27.4 166.0,27.2 166.5,27.0 166.9,26.7 167.3,26.5 167.8,26.3 168.2,26.1 168.6,25.9 169.1,25.8 169.5,25.6 169.9,25.4 170.4,25.2 170.8,25.1 171.3,24.9 171.7,24.8 172.1,24.6 172.6,24.5 173.0,24.4 173.4,24.2 173.9,24.1 174.3,24.0 174.7,23.9 175.2,23.8 175.6,23.8 176.0,23.7 176.5,23.6 176.9,23.6 177.4,23.6 177.8,23.5 178.2,23.5 178.7,23.5 179.1,23.5 179.5,23.5 180.0,23.6 180.4,23.6 180.8,23.7 181.3,23.7 181.7,23.8 182.1,23.9 182.6,24.0 183.0,24.2 183.4,24.3 183.9,24.5 184.3,24.7 184.8,24.9 185.2,25.1 185.6,25.3 186.1,25.6 186.5,25.8 186.9,26.1 187.4,26.4 187.8,26.8 188.2,27.1 188.7,27.5 189.1,27.9 189.5,28.3 190.0,28.7 190.4,29.2 190.9,29.7 191.3,30.2 191.7,30.7 192.2,31.3 192.6,31.9 193.0,32.5 193.5,33.2 193.9,33.8 194.3,34.6 194.8,35.3 195.2,36.1 195.6,36.9 196.1,37.7 196.5,38.5 196.9,39.4 197.4,40.4 197.8,41.3 198.3,42.3 198.7,43.3 199.1,44.4 199.6,45.5 200.0,46.6 200.4,47.8 200.9,49.0 201.3,50.3 201.7,51.5 202.2,52.9 202.6,54.2 203.0,55.6 203.5,57.1 203.9,58.5 204.4,60.0 204.8,61.6 205.2,63.2 205.7,64.8 206.1,66.5 206.5,68.2 207.0,69.9 207.4,71.7 207.8,73.5 208.3,75.3 208.7,77.2 209.1,79.1 209.6,81.1 210.0,83.1 210.4,85.1 210.9,87.2 211.3,89.3 211.8,91.4 212.2,93.6 212.6,95.7 213.1,98.0 213.5,100.2 213.9,102.5 214.4,104.8 214.8,107.1 215.2,109.4 215.7,111.8 216.1,114.2 216.5,116.6 217.0,119.0 217.4,121.4 217.9,123.8 218.3,126.3 218.7,128.8 219.2,131.2 219.6,133.7 220.0,136.2 220.5,138.7 220.9,141.2 221.3,143.7 221.8,146.2 222.2,148.7 222.6,151.2 223.1,153.6 223.5,156.1 223.9,158.6 224.4,161.0 224.8,163.4 225.3,165.8 225.7,168.2 226.1,170.6 226.6,173.0 227.0,175.3 227.4,177.6 227.9,179.9 228.3,182.2 228.7,184.4 229.2,186.7 229.6,188.8 230.0,191.0 230.5,193.1 230.9,195.2 231.4,197.3 231.8,199.3 232.2,201.3 232.7,203.3 233.1,205.2 233.5,207.1 234.0,208.9 234.4,210.7 234.8,212.5 235.3,214.2 235.7,215.9 236.1,217.6 236.6,219.2 237.0,220.8 237.4,222.4 237.9,223.9 238.3,225.3 238.8,226.8 239.2,228.2 239.6,229.5 240.1,230.9 240.5,232.1 240.9,233.4 241.4,234.6 241.8,235.8 242.2,236.9 242.7,238.0 243.1,239.1 243.5,240.1 244.0,241.1 244.4,242.0 244.9,243.0 245.3,243.9 245.7,244.7 246.2,245.5 246.6,246.3 247.0,247.1 247.5,247.8 247.9,248.6 248.3,249.2 248.8,249.9 249.2,250.5 249.6,251.1 250.1,251.7 250.5,252.2 250.9,252.7 251.4,253.2 251.8,253.7 252.3,254.1 252.7,254.5 253.1,254.9 253.6,255.3 254.0,255.6 254.4,256.0 254.9,256.3 255.3,256.6 255.7,256.8 256.2,257.1 256.6,257.3 257.0,257.5 257.5,257.7 257.9,257.9 258.4,258.1 258.8,258.2 259.2,258.4 259.7,258.5 260.1,258.6 260.5,258.7 261.0,258.7 261.4,258.8 261.8,258.8 262.3,258.9 262.7,258.9 263.1,258.9 263.6,258.9 264.0,258.9 264.4,258.8 264.9,258.8 265.3,258.8 265.8,258.7 266.2,258.6 266.6,258.6 267.1,258.5 267.5,258.4 267.9,258.3 268.4,258.2 268.8,258.0 269.2,257.9 269.7,257.8 270.1,257.6 270.5,257.5 271.0,257.3 271.4,257.2 271.9,257.0 272.3,256.8 272.7,256.6 273.2,256.5 273.6,256.3 274.0,256.1 274.5,255.9 274.9,255.7 275.3,255.4 275.8,255.2 276.2,255.0 276.6,254.8 277.1,254.5 277.5,254.3 278.0,254.1 278.4,253.8 278.8,253.6 279.3,253.3 279.7,253.1 280.1,252.8 280.6,252.5 281.0,252.3 281.4,252.0 281.9,251.7 282.3,251.5 282.7,251.2 283.2,250.9 283.6,250.6 284.0,250.3 284.5,250.1 284.9,249.8 285.4,249.5 285.8,249.2 286.2,248.9 286.7,248.6 287.1,248.3 287.5,248.0 288.0,247.7 288.4,247.4 288.8,247.1 289.3,246.8 289.7,246.4 290.1,246.1 290.6,245.8 291.0,245.5 291.5,245.2 291.9,244.9 292.3,244.6 292.8,244.2 293.2,243.9 293.6,243.6 294.1,243.3 294.5,242.9 294.9,242.6 295.4,242.3 295.8,242.0 296.2,241.6 296.7,241.3 297.1,241.0 297.5,240.6 298.0,240.3 298.4,240.0 298.9,239.6 299.3,239.3 299.7,239.0 300.2,238.6 300.6,238.3 301.0,238.0 301.5,237.6 301.9,237.3 302.3,236.9 302.8,236.6 303.2,236.3 303.6,235.9 304.1,235.6 304.5,235.2 305.0,234.9 305.4,234.6 305.8,234.2 306.3,233.9 306.7,233.5 307.1,233.2 307.6,232.8 308.0,232.5 308.4,232.1 308.9,231.8 309.3,231.5 309.7,231.1 310.2,230.8 310.6,230.4 311.0,230.1 311.5,229.7 311.9,229.4 312.4,229.0 312.8,228.7 313.2,228.3 313.7,228.0 314.1,227.6 314.5,227.3 315.0,226.9 315.4,226.6 315.8,226.2 316.3,225.9 316.7,225.5 317.1,225.2 317.6,224.8 318.0,224.5 318.5,224.1 318.9,223.8 319.3,223.4 319.8,223.1 320.2,222.7 320.6,222.4 321.1,222.0 321.5,221.7 321.9,221.3 322.4,221.0 322.8,220.6 323.2,220.2 323.7,219.9 324.1,219.5 324.5,219.2 325.0,218.8 325.4,218.5 325.9,218.1 326.3,217.8 326.7,217.4 327.2,217.1 327.6,216.7 328.0,216.4 328.5,216.0 328.9,215.7 329.3,215.3 329.8,215.0 330.2,214.6 330.6,214.2 331.1,213.9 331.5,213.5 332.0,213.2 332.4,212.8 332.8,212.5 333.3,212.1 333.7,211.8 334.1,211.4 334.6,211.1 335.0,210.7 335.4,210.4 335.9,210.0 336.3,209.7 336.7,209.3 337.2,208.9 337.6,208.6 338.0,208.2 338.5,207.9 338.9,207.5 339.4,207.2 339.8,206.8 340.2,206.5 340.7,206.1 341.1,205.8 341.5,205.4 342.0,205.1 342.4,204.7 342.8,204.3 343.3,204.0 343.7,203.6 344.1,203.3 344.6,202.9 345.0,202.6 345.5,202.2 345.9,201.9 346.3,201.5 346.8,201.2 347.2,200.8 347.6,200.5 348.1,200.1 348.5,199.8 348.9,199.4 349.4,199.1 349.8,198.7 350.2,198.3 350.7,198.0 351.1,197.6 351.5,197.3 352.0,196.9 352.4,196.6 352.9,196.2 353.3,195.9 353.7,195.5 354.2,195.2 354.6,194.8 355.0,194.5 355.5,194.1 355.9,193.8 356.3,193.4 356.8,193.1 357.2,192.7 357.6,192.4 358.1,192.0 358.5,191.7 359.0,191.3 359.4,191.0 359.8,190.6 360.3,190.3 360.7,189.9 361.1,189.6 361.6,189.2 362.0,188.9 362.4,188.5 362.9,188.2 363.3,187.8 363.7,187.5 364.2,187.1 364.6,186.8 365.1,186.4 365.5,186.1 365.9,185.7 366.4,185.4 366.8,185.0 367.2,184.7 367.7,184.3 368.1,184.0 368.5,183.6 369.0,183.3 369.4,182.9 369.8,182.6 370.3,182.2 370.7,181.9 371.1,181.5 371.6,181.2 372.0,180.9 372.5,180.5 372.9,180.2 373.3,179.8 373.8,179.5 374.2,179.1 374.6,178.8 375.1,178.4 375.5,178.1 375.9,177.8 376.4,177.4 376.8,177.1 377.2,176.7 377.7,176.4 378.1,176.1 378.6,175.7 379.0,175.4 379.4,175.0 379.9,174.7 380.3,174.4 380.7,174.0 381.2,173.7 381.6,173.3 382.0,173.0 382.5,172.7 382.9,172.3 383.3,172.0 383.8,171.7 384.2,171.3 384.6,171.0 385.1,170.7 385.5,170.3 386.0,170.0 386.4,169.7 386.8,169.3 387.3,169.0 387.7,168.7 388.1,168.3 388.6,168.0 389.0,167.7 389.4,167.4 389.9,167.0 390.3,166.7 390.7,166.4 391.2,166.1 391.6,165.7 392.1,165.4 392.5,165.1 392.9,164.8 393.4,164.4 393.8,164.1 394.2,163.8 394.7,163.5 395.1,163.2" fill="none" stroke="#0e8b8b" stroke-width="2.0" stroke-dasharray="9 5"/>
<polyline points="46.7,127.1 47.1,127.1 47.6,127.1 48.0,127.1 48.4,127.1 48.9,127.1 49.3,127.1 49.7,127.1 50.2,127.1 50.6,127.1 51.1,127.1 51.5,127.1 51.9,127.1 52.4,127.1 52.8,127.1 53.2,127.1 53.7,127.1 54.1,127.0 54.5,127.0 55.0,127.0 55.4,127.0 55.8,127.0 56.3,127.0 56.7,127.0 57.2,127.0 57.6,127.0 58.0,127.0 58.5,127.0 58.9,127.0 59.3,127.0 59.8,127.0 60.2,127.0 60.6,127.0 61.1,127.0 61.5,127.0 61.9,127.0 62.4,127.0 62.8,127.0 63.2,127.0 63.7,127.0 64.1,127.0 64.6,127.0 65.0,127.0 65.4,127.0 65.9,127.0 66.3,127.0 66.7,127.0 67.2,127.0 67.6,127.0 68.0,127.0 68.5,127.0 68.9,127.0 69.3,127.0 69.8,127.0 70.2,127.0 70.7,127.0 71.1,127.0 71.5,127.0 72.0,127.0 72.4,127.0 72.8,127.0 73.3,127.0 73.7,127.0 74.1,127.0 74.6,127.0 75.0,127.0 75.4,127.0 75.9,127.0 76.3,127.0 76.7,127.1 77.2,127.1 77.6,127.1 78.1,127.1 78.5,127.1 78.9,127.1 79.4,127.1 79.8,127.1 80.2,127.1 80.7,127.1 81.1,127.1 81.5,127.1 82.0,127.1 82.4,127.1 82.8,127.1 83.3,127.2 83.7,127.2 84.2,127.2 84.6,127.2 85.0,127.2 85.5,127.2 85.9,127.2 86.3,127.2 86.8,127.2 87.2,127.2 87.6,127.3 88.1,127.3 88.5,127.3 88.9,127.3 89.4,127.3 89.8,127.3 90.3,127.3 90.7,127.3 91.1,127.4 91.6,127.4 92.0,127.4 92.4,127.4 92.9,127.4 93.3,127.4 93.7,127.4 94.2,127.4 94.6,127.4 95.0,127.5 95.5,127.5 95.9,127.5 96.3,127.5 96.8,127.5 97.2,127.5 97.7,127.5 98.1,127.5 98.5,127.5 99.0,127.5 99.4,127.6 99.8,127.6 100.3,127.6 100.7,127.6 101.1,127.6 101.6,127.6 102.0,127.6 102.4,127.6 102.9,127.6 103.3,127.6 103.8,127.7 104.2,127.7 104.6,127.7 105.1,127.7 105.5,127.7 105.9,127.7 106.4,127.7 106.8,127.7 107.2,127.8 107.7,127.8 108.1,127.8 108.5,127.8 109.0,127.8 109.4,127.8 109.8,127.9 110.3,127.9 110.7,127.9 111.2,127.9 111.6,127.9 112.0,127.9 112.5,128.0 112.9,128.0 113.3,128.0 113.8,128.0 114.2,128.0 114.6,128.0 115.1,128.1 115.5,128.1 115.9,128.1 116.4,128.1 116.8,128.1 117.3,128.2 117.7,128.2 118.1,128.2 118.6,128.2 119.0,128.2 119.4,128.3 119.9,128.3 120.3,128.3 120.7,128.3 121.2,128.4 121.6,128.4 122.0,128.4 122.5,128.4 122.9,128.4 123.3,128.5 123.8,128.5 124.2,128.5 124.7,128.5 125.1,128.6 125.5,128.6 126.0,128.6 126.4,128.6 126.8,128.7 127.3,128.7 127.7,128.7 128.1,128.7 128.6,128.8 129.0,128.8 129.4,128.8 129.9,128.9 130.3,128.9 130.8,128.9 131.2,128.9 131.6,129.0 132.1,129.0 132.5,129.0 132.9,129.1 133.4,129.1 133.8,129.1 134.2,129.1 134.7,129.2 135.1,129.2 135.5,129.2 136.0,129.3 136.4,129.3 136.8,129.3 137.3,129.4 137.7,129.4 138.2,129.4 138.6,129.5 139.0,129.5 139.5,129.5 139.9,129.6 140.3,129.6 140.8,129.6 141.2,129.7 141.6,129.7 142.1,129.7 142.5,129.8 142.9,129.8 143.4,129.9 143.8,129.9 144.3,130.0 144.7,130.0 145.1,130.0 145.6,130.1 146.0,130.1 146.4,130.2 146.9,130.2 147.3,130.3 147.7,130.3 148.2,130.4 148.6,130.4 149.0,130.5 149.5,130.5 149.9,130.6 150.3,130.6 150.8,130.7 151.2,130.7 151.7,130.8 152.1,130.8 152.5,130.9 153.0,130.9 153.4,131.0 153.8,131.0 154.3,131.1 154.7,131.1 155.1,131.2 155.6,131.3 156.0,131.3 156.4,131.4 156.9,131.4 157.3,131.5 157.8,131.5 158.2,131.6 158.6,131.6 159.1,131.7 159.5,131.8 159.9,131.8 160.4,131.9 160.8,131.9 161.2,132.0 161.7,132.1 162.1,132.1 162.5,132.2 163.0,132.2 163.4,132.3 163.8,132.4 164.3,132.4 164.7,132.5 165.2,132.6 165.6,132.6 166.0,132.7 166.5,132.7 166.9,132.8 167.3,132.9 167.8,132.9 168.2,133.0 168.6,133.1 169.1,133.1 169.5,133.2 169.9,133.3 170.4,133.3 170.8,133.4 171.3,133.5 171.7,133.5 172.1,133.6 172.6,133.7 173.0,133.7 173.4,133.8 173.9,133.9 174.3,133.9 174.7,134.0 175.2,134.1 175.6,134.1 176.0,134.2 176.5,134.3 176.9,134.4 177.4,134.4 177.8,134.5 178.2,134.6 178.7,134.6 179.1,134.7 179.5,134.8 180.0,134.8 180.4,134.9 180.8,135.0 181.3,135.0 181.7,135.1 182.1,135.2 182.6,135.3 183.0,135.3 183.4,135.4 183.9,135.5 184.3,135.5 184.8,135.6 185.2,135.7 185.6,135.7 186.1,135.8 186.5,135.9 186.9,135.9 187.4,136.0 187.8,136.1 188.2,136.2 188.7,136.2 189.1,136.3 189.5,136.4 190.0,136.4 190.4,136.5 190.9,136.6 191.3,136.6 191.7,136.7 192.2,136.8 192.6,136.9 193.0,136.9 193.5,137.0 193.9,137.1 194.3,137.1 194.8,137.2 195.2,137.3 195.6,137.3 196.1,137.4 196.5,137.5 196.9,137.5 197.4,137.6 197.8,137.7 198.3,137.7 198.7,137.8 199.1,137.9 199.6,137.9 200.0,138.0 200.4,138.0 200.9,138.1 201.3,138.2 201.7,138.2 202.2,138.3 202.6,138.4 203.0,138.4 203.5,138.5 203.9,138.6 204.4,138.6 204.8,138.7 205.2,138.8 205.7,138.8 206.1,138.9 206.5,139.0 207.0,139.0 207.4,139.1 207.8,139.2 208.3,139.2 208.7,139.3 209.1,139.4 209.6,139.4 210.0,139.5 210.4,139.6 210.9,139.6 211.3,139.7 211.8,139.8 212.2,139.8 212.6,139.9 213.1,140.0 213.5,140.1 213.9,140.1 214.4,140.2 214.8,140.3 215.2,140.3 215.7,140.4 216.1,140.5 216.5,140.5 217.0,140.6 217.4,140.7 217.9,140.7 218.3,140.8 218.7,140.9 219.2,140.9 219.6,141.0 220.0,141.1 220.5,141.1 220.9,141.2 221.3,141.3 221.8,141.3 222.2,141.4 222.6,141.5 223.1,141.5 223.5,141.6 223.9,141.7 224.4,141.7 224.8,141.8 225.3,141.9 225.7,141.9 226.1,142.0 226.6,142.1 227.0,142.1 227.4,142.2 227.9,142.3 228.3,142.3 228.7,142.4 229.2,142.5 229.6,142.6 230.0,142.6 230.5,142.7 230.9,142.8 231.4,142.8 231.8,142.9 232.2,143.0 232.7,143.0 233.1,143.1 233.5,143.2 234.0,143.2 234.4,143.3 234.8,143.4 235.3,143.4 235.7,143.5 236.1,143.6 236.6,143.6 237.0,143.7 237.4,143.8 237.9,143.8 238.3,143.9 238.8,144.0 239.2,144.0 239.6,144.1 240.1,144.2 240.5,144.2 240.9,144.3 241.4,144.4 241.8,144.4 242.2,144.5 242.7,144.5 243.1,144.6 243.5,144.7 244.0,144.7 244.4,144.8 244.9,144.9 245.3,144.9 245.7,145.0 246.2,145.1 246.6,145.1 247.0,145.2 247.5,145.3 247.9,145.3 248.3,145.4 248.8,145.5 249.2,145.5 249.6,145.6 250.1,145.7 250.5,145.8 250.9,145.8 251.4,145.9 251.8,146.0 252.3,146.0 252.7,146.1 253.1,146.2 253.6,146.2 254.0,146.3 254.4,146.4 254.9,146.5 255.3,146.5 255.7,146.6 256.2,146.7 256.6,146.7 257.0,146.8 257.5,146.9 257.9,146.9 258.4,147.0 258.8,147.1 259.2,147.1 259.7,147.2 260.1,147.3 260.5,147.4 261.0,147.4 261.4,147.5 261.8,147.6 262.3,147.6 262.7,147.7 263.1,147.8 263.6,147.8 264.0,147.9 264.4,148.0 264.9,148.0 265.3,148.1 265.8,148.2 266.2,148.3 266.6,148.3 267.1,148.4 267.5,148.5 267.9,148.5 268.4,148.6 268.8,148.7 269.2,148.7 269.7,148.8 270.1,148.9 270.5,148.9 271.0,149.0 271.4,149.1 271.9,149.1 272.3,149.2 272.7,149.3 273.2,149.3 273.6,149.4 274.0,149.5 274.5,149.5 274.9,149.6 275.3,149.7 275.8,149.7 276.2,149.8 276.6,149.8 277.1,149.9 277.5,150.0 278.0,150.0 278.4,150.1 278.8,150.2 279.3,150.2 279.7,150.3 280.1,150.3 280.6,150.4 281.0,150.5 281.4,150.5 281.9,150.6 282.3,150.6 282.7,150.7 283.2,150.8 283.6,150.8 284.0,150.9 284.5,150.9 284.9,151.0 285.4,151.0 285.8,151.1 286.2,151.1 286.7,151.2 287.1,151.3 287.5,151.3 288.0,151.4 288.4,151.4 288.8,151.5 289.3,151.5 289.7,151.6 290.1,151.6 290.6,151.7 291.0,151.7 291.5,151.8 291.9,151.8 292.3,151.9 292.8,151.9 293.2,152.0 293.6,152.0 294.1,152.1 294.5,152.1 294.9,152.2 295.4,152.2 295.8,152.3 296.2,152.3 296.7,152.4 297.1,152.4 297.5,152.4 298.0,152.5 298.4,152.5 298.9,152.6 299.3,152.6 299.7,152.7 300.2,152.7 300.6,152.7 301.0,152.8 301.5,152.8 301.9,152.8 302.3,152.9 302.8,152.9 303.2,152.9 303.6,153.0 304.1,153.0 304.5,153.0 305.0,153.1 305.4,153.1 305.8,153.1 306.3,153.2 306.7,153.2 307.1,153.2 307.6,153.3 308.0,153.3 308.4,153.3 308.9,153.3 309.3,153.4 309.7,153.4 310.2,153.4 310.6,153.5 311.0,153.5 311.5,153.5 311.9,153.5 312.4,153.6 312.8,153.6 313.2,153.6 313.7,153.7 314.1,153.7 314.5,153.7 315.0,153.7 315.4,153.8 315.8,153.8 316.3,153.8 316.7,153.8 317.1,153.9 317.6,153.9 318.0,153.9 318.5,153.9 318.9,154.0 319.3,154.0 319.8,154.0 320.2,154.0 320.6,154.0 321.1,154.1 321.5,154.1 321.9,154.1 322.4,154.1 322.8,154.2 323.2,154.2 323.7,154.2 324.1,154.2 324.5,154.2 325.0,154.3 325.4,154.3 325.9,154.3 326.3,154.3 326.7,154.3 327.2,154.4 327.6,154.4 328.0,154.4 328.5,154.4 328.9,154.4 329.3,154.4 329.8,154.5 330.2,154.5 330.6,154.5 331.1,154.5 331.5,154.5 332.0,154.5 332.4,154.6 332.8,154.6 333.3,154.6 333.7,154.6 334.1,154.6 334.6,154.6 335.0,154.7 335.4,154.7 335.9,154.7 336.3,154.7 336.7,154.7 337.2,154.7 337.6,154.7 338.0,154.7 338.5,154.8 338.9,154.8 339.4,154.8 339.8,154.8 340.2,154.8 340.7,154.8 341.1,154.8 341.5,154.8 342.0,154.8 342.4,154.8 342.8,154.9 343.3,154.9 343.7,154.9 344.1,154.9 344.6,154.9 345.0,154.9 345.5,154.9 345.9,154.9 346.3,154.9 346.8,154.9 347.2,155.0 347.6,155.0 348.1,155.0 348.5,155.0 348.9,155.0 349.4,155.0 349.8,155.0 350.2,155.0 350.7,155.0 351.1,155.1 351.5,155.1 352.0,155.1 352.4,155.1 352.9,155.1 353.3,155.1 353.7,155.1 354.2,155.1 354.6,155.2 355.0,155.2 355.5,155.2 355.9,155.2 356.3,155.2 356.8,155.2 357.2,155.2 357.6,155.2 358.1,155.2 358.5,155.2 359.0,155.3 359.4,155.3 359.8,155.3 360.3,155.3 360.7,155.3 361.1,155.3 361.6,155.3 362.0,155.3 362.4,155.3 362.9,155.3 363.3,155.3 363.7,155.3 364.2,155.3 364.6,155.3 365.1,155.3 365.5,155.4 365.9,155.4 366.4,155.4 366.8,155.4 367.2,155.4 367.7,155.4 368.1,155.4 368.5,155.4 369.0,155.4 369.4,155.4 369.8,155.4 370.3,155.4 370.7,155.4 371.1,155.4 371.6,155.4 372.0,155.4 372.5,155.4 372.9,155.4 373.3,155.4 373.8,155.4 374.2,155.4 374.6,155.4 375.1,155.4 375.5,155.4 375.9,155.4 376.4,155.4 376.8,155.4 377.2,155.4 377.7,155.4 378.1,155.4 378.6,155.4 379.0,155.4 379.4,155.4 379.9,155.4 380.3,155.4 380.7,155.4 381.2,155.4 381.6,155.4 382.0,155.4 382.5,155.4 382.9,155.4 383.3,155.4 383.8,155.4 384.2,155.4 384.6,155.4 385.1,155.4 385.5,155.4 386.0,155.4 386.4,155.4 386.8,155.4 387.3,155.4 387.7,155.4 388.1,155.3 388.6,155.3 389.0,155.3 389.4,155.3 389.9,155.3 390.3,155.3 390.7,155.3 391.2,155.3 391.6,155.3 392.1,155.3 392.5,155.3 392.9,155.3 393.4,155.3 393.8,155.3 394.2,155.3 394.7,155.3 395.1,155.3" fill="none" stroke="#8b0000" stroke-width="2.8"/>
<polyline points="46.7,119.2 47.1,119.1 47.6,119.1 48.0,119.1 48.4,119.1 48.9,119.1 49.3,119.0 49.7,119.0 50.2,119.0 50.6,119.0 51.1,119.0 51.5,118.9 51.9,118.9 52.4,118.9 52.8,118.8 53.2,118.8 53.7,118.7 54.1,118.7 54.5,118.6 55.0,118.6 55.4,118.5 55.8,118.4 56.3,118.3 56.7,118.3 57.2,118.2 57.6,118.1 58.0,118.0 58.5,117.9 58.9,117.8 59.3,117.7 59.8,117.6 60.2,117.6 60.6,117.5 61.1,117.4 61.5,117.3 61.9,117.2 62.4,117.1 62.8,116.9 63.2,116.8 63.7,116.7 64.1,116.6 64.6,116.5 65.0,116.4 65.4,116.2 65.9,116.1 66.3,116.0 66.7,115.9 67.2,115.8 67.6,115.6 68.0,115.5 68.5,115.4 68.9,115.3 69.3,115.1 69.8,115.0 70.2,114.8 70.7,114.7 71.1,114.6 71.5,114.4 72.0,114.3 72.4,114.1 72.8,113.9 73.3,113.8 73.7,113.6 74.1,113.5 74.6,113.3 75.0,113.2 75.4,113.0 75.9,112.9 76.3,112.7 76.7,112.6 77.2,112.4 77.6,112.2 78.1,112.1 78.5,111.9 78.9,111.8 79.4,111.6 79.8,111.5 80.2,111.3 80.7,111.2 81.1,111.0 81.5,110.8 82.0,110.7 82.4,110.5 82.8,110.4 83.3,110.2 83.7,110.1 84.2,109.9 84.6,109.8 85.0,109.6 85.5,109.5 85.9,109.3 86.3,109.2 86.8,109.0 87.2,108.9 87.6,108.7 88.1,108.6 88.5,108.4 88.9,108.3 89.4,108.1 89.8,108.0 90.3,107.9 90.7,107.7 91.1,107.6 91.6,107.4 92.0,107.3 92.4,107.1 92.9,107.0 93.3,106.8 93.7,106.7 94.2,106.5 94.6,106.4 95.0,106.3 95.5,106.1 95.9,106.0 96.3,105.8 96.8,105.7 97.2,105.5 97.7,105.4 98.1,105.3 98.5,105.1 99.0,105.0 99.4,104.8 99.8,104.7 100.3,104.6 100.7,104.4 101.1,104.3 101.6,104.1 102.0,104.0 102.4,103.9 102.9,103.7 103.3,103.6 103.8,103.5 104.2,103.3 104.6,103.2 105.1,103.1 105.5,102.9 105.9,102.8 106.4,102.7 106.8,102.6 107.2,102.4 107.7,102.3 108.1,102.2 108.5,102.1 109.0,101.9 109.4,101.8 109.8,101.7 110.3,101.6 110.7,101.4 111.2,101.3 111.6,101.2 112.0,101.1 112.5,101.0 112.9,100.8 113.3,100.7 113.8,100.6 114.2,100.5 114.6,100.4 115.1,100.2 115.5,100.1 115.9,100.0 116.4,99.9 116.8,99.8 117.3,99.7 117.7,99.5 118.1,99.4 118.6,99.3 119.0,99.2 119.4,99.1 119.9,99.0 120.3,98.9 120.7,98.7 121.2,98.6 121.6,98.5 122.0,98.4 122.5,98.3 122.9,98.2 123.3,98.1 123.8,97.9 124.2,97.8 124.7,97.7 125.1,97.6 125.5,97.5 126.0,97.4 126.4,97.2 126.8,97.1 127.3,97.0 127.7,96.9 128.1,96.8 128.6,96.7 129.0,96.6 129.4,96.5 129.9,96.4 130.3,96.3 130.8,96.1 131.2,96.0 131.6,95.9 132.1,95.8 132.5,95.7 132.9,95.6 133.4,95.5 133.8,95.4 134.2,95.3 134.7,95.2 135.1,95.1 135.5,95.0 136.0,94.9 136.4,94.8 136.8,94.7 137.3,94.7 137.7,94.6 138.2,94.5 138.6,94.4 139.0,94.3 139.5,94.2 139.9,94.1 140.3,94.0 140.8,93.9 141.2,93.8 141.6,93.7 142.1,93.7 142.5,93.6 142.9,93.5 143.4,93.4 143.8,93.3 144.3,93.2 144.7,93.1 145.1,93.0 145.6,93.0 146.0,92.9 146.4,92.8 146.9,92.7 147.3,92.6 147.7,92.5 148.2,92.5 148.6,92.4 149.0,92.3 149.5,92.2 149.9,92.2 150.3,92.1 150.8,92.0 151.2,91.9 151.7,91.9 152.1,91.8 152.5,91.8 153.0,91.7 153.4,91.6 153.8,91.6 154.3,91.5 154.7,91.5 155.1,91.4 155.6,91.4 156.0,91.4 156.4,91.3 156.9,91.3 157.3,91.2 157.8,91.2 158.2,91.2 158.6,91.2 159.1,91.1 159.5,91.1 159.9,91.1 160.4,91.1 160.8,91.1 161.2,91.1 161.7,91.1 162.1,91.1 162.5,91.1 163.0,91.1 163.4,91.1 163.8,91.2 164.3,91.2 164.7,91.2 165.2,91.2 165.6,91.3 166.0,91.3 166.5,91.3 166.9,91.4 167.3,91.4 167.8,91.5 168.2,91.5 168.6,91.6 169.1,91.6 169.5,91.7 169.9,91.8 170.4,91.9 170.8,91.9 171.3,92.0 171.7,92.1 172.1,92.2 172.6,92.3 173.0,92.4 173.4,92.5 173.9,92.7 174.3,92.8 174.7,92.9 175.2,93.0 175.6,93.2 176.0,93.3 176.5,93.5 176.9,93.7 177.4,93.8 177.8,94.0 178.2,94.2 178.7,94.4 179.1,94.6 179.5,94.8 180.0,95.0 180.4,95.2 180.8,95.4 181.3,95.6 181.7,95.8 182.1,96.1 182.6,96.3 183.0,96.6 183.4,96.8 183.9,97.1 184.3,97.3 184.8,97.6 185.2,97.9 185.6,98.2 186.1,98.5 186.5,98.8 186.9,99.1 187.4,99.4 187.8,99.7 188.2,100.0 188.7,100.4 189.1,100.7 189.5,101.1 190.0,101.4 190.4,101.8 190.9,102.2 191.3,102.5 191.7,102.9 192.2,103.3 192.6,103.7 193.0,104.1 193.5,104.5 193.9,104.9 194.3,105.4 194.8,105.8 195.2,106.2 195.6,106.7 196.1,107.1 196.5,107.6 196.9,108.0 197.4,108.5 197.8,109.0 198.3,109.5 198.7,110.0 199.1,110.5 199.6,111.0 200.0,111.5 200.4,112.0 200.9,112.5 201.3,113.0 201.7,113.5 202.2,114.1 202.6,114.6 203.0,115.2 203.5,115.7 203.9,116.3 204.4,116.8 204.8,117.4 205.2,118.0 205.7,118.6 206.1,119.2 206.5,119.8 207.0,120.3 207.4,120.9 207.8,121.6 208.3,122.2 208.7,122.8 209.1,123.4 209.6,124.0 210.0,124.6 210.4,125.3 210.9,125.9 211.3,126.5 211.8,127.2 212.2,127.8 212.6,128.5 213.1,129.1 213.5,129.8 213.9,130.4 214.4,131.1 214.8,131.8 215.2,132.4 215.7,133.1 216.1,133.8 216.5,134.4 217.0,135.1 217.4,135.8 217.9,136.5 218.3,137.1 218.7,137.8 219.2,138.5 219.6,139.2 220.0,139.8 220.5,140.5 220.9,141.2 221.3,141.9 221.8,142.6 222.2,143.2 222.6,143.9 223.1,144.6 223.5,145.3 223.9,145.9 224.4,146.6 224.8,147.3 225.3,148.0 225.7,148.6 226.1,149.3 226.6,150.0 227.0,150.6 227.4,151.3 227.9,152.0 228.3,152.6 228.7,153.3 229.2,153.9 229.6,154.6 230.0,155.2 230.5,155.9 230.9,156.5 231.4,157.1 231.8,157.8 232.2,158.4 232.7,159.0 233.1,159.6 233.5,160.2 234.0,160.8 234.4,161.5 234.8,162.1 235.3,162.6 235.7,163.2 236.1,163.8 236.6,164.4 237.0,165.0 237.4,165.6 237.9,166.1 238.3,166.7 238.8,167.2 239.2,167.8 239.6,168.3 240.1,168.9 240.5,169.4 240.9,169.9 241.4,170.4 241.8,170.9 242.2,171.4 242.7,171.9 243.1,172.4 243.5,172.9 244.0,173.4 244.4,173.9 244.9,174.4 245.3,174.8 245.7,175.3 246.2,175.7 246.6,176.2 247.0,176.6 247.5,177.0 247.9,177.5 248.3,177.9 248.8,178.3 249.2,178.7 249.6,179.1 250.1,179.5 250.5,179.9 250.9,180.2 251.4,180.6 251.8,181.0 252.3,181.3 252.7,181.7 253.1,182.0 253.6,182.4 254.0,182.7 254.4,183.0 254.9,183.3 255.3,183.6 255.7,183.9 256.2,184.2 256.6,184.5 257.0,184.8 257.5,185.1 257.9,185.3 258.4,185.6 258.8,185.8 259.2,186.1 259.7,186.3 260.1,186.6 260.5,186.8 261.0,187.0 261.4,187.2 261.8,187.4 262.3,187.6 262.7,187.8 263.1,188.0 263.6,188.2 264.0,188.4 264.4,188.6 264.9,188.7 265.3,188.9 265.8,189.1 266.2,189.2 266.6,189.4 267.1,189.5 267.5,189.6 267.9,189.7 268.4,189.9 268.8,190.0 269.2,190.1 269.7,190.2 270.1,190.3 270.5,190.4 271.0,190.5 271.4,190.5 271.9,190.6 272.3,190.7 272.7,190.8 273.2,190.8 273.6,190.9 274.0,190.9 274.5,191.0 274.9,191.0 275.3,191.1 275.8,191.1 276.2,191.1 276.6,191.2 277.1,191.2 277.5,191.2 278.0,191.2 278.4,191.3 278.8,191.3 279.3,191.3 279.7,191.3 280.1,191.3 280.6,191.3 281.0,191.3 281.4,191.3 281.9,191.3 282.3,191.3 282.7,191.3 283.2,191.2 283.6,191.2 284.0,191.2 284.5,191.2 284.9,191.1 285.4,191.1 285.8,191.0 286.2,191.0 286.7,191.0 287.1,190.9 287.5,190.9 288.0,190.8 288.4,190.8 288.8,190.7 289.3,190.6 289.7,190.6 290.1,190.5 290.6,190.5 291.0,190.4 291.5,190.3 291.9,190.2 292.3,190.2 292.8,190.1 293.2,190.0 293.6,189.9 294.1,189.9 294.5,189.8 294.9,189.7 295.4,189.6 295.8,189.5 296.2,189.4 296.7,189.4 297.1,189.3 297.5,189.2 298.0,189.1 298.4,189.0 298.9,188.9 299.3,188.8 299.7,188.7 300.2,188.7 300.6,188.6 301.0,188.5 301.5,188.4 301.9,188.3 302.3,188.2 302.8,188.1 303.2,188.0 303.6,187.9 304.1,187.8 304.5,187.7 305.0,187.7 305.4,187.6 305.8,187.5 306.3,187.4 306.7,187.3 307.1,187.2 307.6,187.1 308.0,187.0 308.4,186.9 308.9,186.8 309.3,186.7 309.7,186.6 310.2,186.5 310.6,186.4 311.0,186.3 311.5,186.1 311.9,186.0 312.4,185.9 312.8,185.8 313.2,185.7 313.7,185.6 314.1,185.5 314.5,185.4 315.0,185.3 315.4,185.2 315.8,185.0 316.3,184.9 316.7,184.8 317.1,184.7 317.6,184.6 318.0,184.5 318.5,184.3 318.9,184.2 319.3,184.1 319.8,184.0 320.2,183.9 320.6,183.8 321.1,183.7 321.5,183.5 321.9,183.4 322.4,183.3 322.8,183.2 323.2,183.1 323.7,183.0 324.1,182.9 324.5,182.7 325.0,182.6 325.4,182.5 325.9,182.4 326.3,182.3 326.7,182.2 327.2,182.0 327.6,181.9 328.0,181.8 328.5,181.7 328.9,181.6 329.3,181.4 329.8,181.3 330.2,181.2 330.6,181.1 331.1,181.0 331.5,180.8 332.0,180.7 332.4,180.6 332.8,180.5 333.3,180.3 333.7,180.2 334.1,180.1 334.6,180.0 335.0,179.8 335.4,179.7 335.9,179.6 336.3,179.5 336.7,179.3 337.2,179.2 337.6,179.1 338.0,178.9 338.5,178.8 338.9,178.7 339.4,178.5 339.8,178.4 340.2,178.3 340.7,178.1 341.1,178.0 341.5,177.8 342.0,177.7 342.4,177.6 342.8,177.4 343.3,177.3 343.7,177.1 344.1,177.0 344.6,176.9 345.0,176.7 345.5,176.6 345.9,176.4 346.3,176.3 346.8,176.1 347.2,176.0 347.6,175.9 348.1,175.7 348.5,175.6 348.9,175.4 349.4,175.3 349.8,175.1 350.2,175.0 350.7,174.8 351.1,174.7 351.5,174.5 352.0,174.4 352.4,174.3 352.9,174.1 353.3,174.0 353.7,173.8 354.2,173.7 354.6,173.5 355.0,173.4 355.5,173.2 355.9,173.1 356.3,172.9 356.8,172.8 357.2,172.6 357.6,172.5 358.1,172.3 358.5,172.2 359.0,172.0 359.4,171.9 359.8,171.7 360.3,171.6 360.7,171.4 361.1,171.2 361.6,171.1 362.0,170.9 362.4,170.8 362.9,170.6 363.3,170.5 363.7,170.3 364.2,170.2 364.6,170.0 365.1,169.8 365.5,169.7 365.9,169.5 366.4,169.4 366.8,169.2 367.2,169.1 367.7,168.9 368.1,168.8 368.5,168.6 369.0,168.5 369.4,168.3 369.8,168.1 370.3,168.0 370.7,167.8 371.1,167.7 371.6,167.6 372.0,167.4 372.5,167.3 372.9,167.1 373.3,167.0 373.8,166.9 374.2,166.8 374.6,166.6 375.1,166.5 375.5,166.4 375.9,166.3 376.4,166.2 376.8,166.0 377.2,165.9 377.7,165.8 378.1,165.7 378.6,165.6 379.0,165.5 379.4,165.3 379.9,165.2 380.3,165.1 380.7,165.0 381.2,164.9 381.6,164.8 382.0,164.8 382.5,164.7 382.9,164.6 383.3,164.5 383.8,164.4 384.2,164.3 384.6,164.2 385.1,164.1 385.5,164.1 386.0,164.0 386.4,163.9 386.8,163.8 387.3,163.8 387.7,163.7 388.1,163.7 388.6,163.6 389.0,163.6 389.4,163.5 389.9,163.5 390.3,163.5 390.7,163.4 391.2,163.4 391.6,163.4 392.1,163.4 392.5,163.4 392.9,163.3 393.4,163.3 393.8,163.3 394.2,163.3 394.7,163.3 395.1,163.2" fill="none" stroke="#808080" stroke-width="2.8"/>
<polyline points="46.7,120.3 47.1,120.2 47.6,120.1 48.0,120.1 48.4,120.0 48.9,119.9 49.3,119.9 49.7,119.8 50.2,119.8 50.6,119.7 51.1,119.6 51.5,119.6 51.9,119.5 52.4,119.5 52.8,119.4 53.2,119.3 53.7,119.3 54.1,119.2 54.5,119.2 55.0,119.1 55.4,119.1 55.8,119.0 56.3,118.9 56.7,118.9 57.2,118.8 57.6,118.8 58.0,118.7 58.5,118.6 58.9,118.6 59.3,118.5 59.8,118.5 60.2,118.4 60.6,118.3 61.1,118.3 61.5,118.2 61.9,118.1 62.4,118.1 62.8,118.0 63.2,117.9 63.7,117.9 64.1,117.8 64.6,117.7 65.0,117.7 65.4,117.6 65.9,117.5 66.3,117.5 66.7,117.4 67.2,117.3 67.6,117.3 68.0,117.2 68.5,117.1 68.9,117.1 69.3,117.0 69.8,116.9 70.2,116.9 70.7,116.8 71.1,116.8 71.5,116.7 72.0,116.6 72.4,116.6 72.8,116.5 73.3,116.4 73.7,116.4 74.1,116.3 74.6,116.2 75.0,116.2 75.4,116.1 75.9,116.0 76.3,116.0 76.7,115.9 77.2,115.8 77.6,115.8 78.1,115.7 78.5,115.6 78.9,115.6 79.4,115.5 79.8,115.4 80.2,115.3 80.7,115.3 81.1,115.2 81.5,115.1 82.0,115.0 82.4,115.0 82.8,114.9 83.3,114.8 83.7,114.7 84.2,114.6 84.6,114.6 85.0,114.5 85.5,114.4 85.9,114.3 86.3,114.2 86.8,114.2 87.2,114.1 87.6,114.0 88.1,113.9 88.5,113.8 88.9,113.8 89.4,113.7 89.8,113.6 90.3,113.5 90.7,113.5 91.1,113.4 91.6,113.3 92.0,113.2 92.4,113.1 92.9,113.1 93.3,113.0 93.7,112.9 94.2,112.9 94.6,112.8 95.0,112.7 95.5,112.6 95.9,112.6 96.3,112.5 96.8,112.4 97.2,112.4 97.7,112.3 98.1,112.2 98.5,112.2 99.0,112.1 99.4,112.0 99.8,112.0 100.3,111.9 100.7,111.8 101.1,111.8 101.6,111.7 102.0,111.6 102.4,111.6 102.9,111.5 103.3,111.5 103.8,111.4 104.2,111.3 104.6,111.3 105.1,111.2 105.5,111.2 105.9,111.1 106.4,111.1 106.8,111.0 107.2,111.0 107.7,110.9 108.1,110.9 108.5,110.8 109.0,110.8 109.4,110.7 109.8,110.7 110.3,110.6 110.7,110.6 111.2,110.6 111.6,110.5 112.0,110.5 112.5,110.4 112.9,110.4 113.3,110.4 113.8,110.3 114.2,110.3 114.6,110.2 115.1,110.2 115.5,110.2 115.9,110.1 116.4,110.1 116.8,110.1 117.3,110.0 117.7,110.0 118.1,110.0 118.6,109.9 119.0,109.9 119.4,109.9 119.9,109.8 120.3,109.8 120.7,109.8 121.2,109.7 121.6,109.7 122.0,109.7 122.5,109.7 122.9,109.6 123.3,109.6 123.8,109.6 124.2,109.6 124.7,109.5 125.1,109.5 125.5,109.5 126.0,109.5 126.4,109.5 126.8,109.4 127.3,109.4 127.7,109.4 128.1,109.4 128.6,109.4 129.0,109.4 129.4,109.3 129.9,109.3 130.3,109.3 130.8,109.3 131.2,109.3 131.6,109.3 132.1,109.2 132.5,109.2 132.9,109.2 133.4,109.2 133.8,109.1 134.2,109.1 134.7,109.1 135.1,109.1 135.5,109.1 136.0,109.0 136.4,109.0 136.8,109.0 137.3,109.0 137.7,109.0 138.2,108.9 138.6,108.9 139.0,108.9 139.5,108.9 139.9,108.9 140.3,108.9 140.8,108.9 141.2,108.9 141.6,108.9 142.1,108.9 142.5,108.9 142.9,108.9 143.4,108.9 143.8,108.9 144.3,108.9 144.7,108.9 145.1,108.9 145.6,108.9 146.0,109.0 146.4,109.0 146.9,109.0 147.3,109.0 147.7,109.0 148.2,109.0 148.6,109.1 149.0,109.1 149.5,109.1 149.9,109.1 150.3,109.2 150.8,109.2 151.2,109.2 151.7,109.3 152.1,109.3 152.5,109.3 153.0,109.4 153.4,109.4 153.8,109.4 154.3,109.5 154.7,109.5 155.1,109.6 155.6,109.6 156.0,109.7 156.4,109.7 156.9,109.8 157.3,109.9 157.8,109.9 158.2,110.0 158.6,110.1 159.1,110.1 159.5,110.2 159.9,110.3 160.4,110.3 160.8,110.4 161.2,110.5 161.7,110.6 162.1,110.7 162.5,110.7 163.0,110.8 163.4,110.9 163.8,111.0 164.3,111.1 164.7,111.2 165.2,111.3 165.6,111.4 166.0,111.5 166.5,111.6 166.9,111.7 167.3,111.8 167.8,111.9 168.2,112.0 168.6,112.1 169.1,112.3 169.5,112.4 169.9,112.5 170.4,112.6 170.8,112.8 171.3,112.9 171.7,113.0 172.1,113.2 172.6,113.3 173.0,113.4 173.4,113.6 173.9,113.7 174.3,113.9 174.7,114.0 175.2,114.2 175.6,114.3 176.0,114.5 176.5,114.6 176.9,114.8 177.4,115.0 177.8,115.1 178.2,115.3 178.7,115.5 179.1,115.7 179.5,115.8 180.0,116.0 180.4,116.2 180.8,116.4 181.3,116.6 181.7,116.8 182.1,117.0 182.6,117.2 183.0,117.4 183.4,117.6 183.9,117.8 184.3,118.0 184.8,118.2 185.2,118.4 185.6,118.6 186.1,118.8 186.5,119.0 186.9,119.2 187.4,119.4 187.8,119.7 188.2,119.9 188.7,120.1 189.1,120.3 189.5,120.6 190.0,120.8 190.4,121.0 190.9,121.3 191.3,121.5 191.7,121.7 192.2,122.0 192.6,122.2 193.0,122.5 193.5,122.7 193.9,123.0 194.3,123.2 194.8,123.5 195.2,123.7 195.6,124.0 196.1,124.3 196.5,124.5 196.9,124.8 197.4,125.1 197.8,125.3 198.3,125.6 198.7,125.9 199.1,126.2 199.6,126.4 200.0,126.7 200.4,127.0 200.9,127.3 201.3,127.5 201.7,127.8 202.2,128.1 202.6,128.4 203.0,128.7 203.5,129.0 203.9,129.3 204.4,129.5 204.8,129.8 205.2,130.1 205.7,130.4 206.1,130.7 206.5,131.0 207.0,131.3 207.4,131.6 207.8,131.9 208.3,132.2 208.7,132.5 209.1,132.8 209.6,133.1 210.0,133.4 210.4,133.7 210.9,134.0 211.3,134.3 211.8,134.6 212.2,134.9 212.6,135.3 213.1,135.6 213.5,135.9 213.9,136.2 214.4,136.5 214.8,136.8 215.2,137.1 215.7,137.4 216.1,137.7 216.5,138.1 217.0,138.4 217.4,138.7 217.9,139.0 218.3,139.3 218.7,139.6 219.2,139.9 219.6,140.3 220.0,140.6 220.5,140.9 220.9,141.2 221.3,141.5 221.8,141.8 222.2,142.1 222.6,142.5 223.1,142.8 223.5,143.1 223.9,143.4 224.4,143.7 224.8,144.0 225.3,144.3 225.7,144.7 226.1,145.0 226.6,145.3 227.0,145.6 227.4,145.9 227.9,146.2 228.3,146.5 228.7,146.8 229.2,147.1 229.6,147.5 230.0,147.8 230.5,148.1 230.9,148.4 231.4,148.7 231.8,149.0 232.2,149.3 232.7,149.6 233.1,149.9 233.5,150.2 234.0,150.5 234.4,150.8 234.8,151.1 235.3,151.4 235.7,151.7 236.1,152.0 236.6,152.3 237.0,152.6 237.4,152.9 237.9,153.1 238.3,153.4 238.8,153.7 239.2,154.0 239.6,154.3 240.1,154.6 240.5,154.9 240.9,155.1 241.4,155.4 241.8,155.7 242.2,156.0 242.7,156.2 243.1,156.5 243.5,156.8 244.0,157.1 244.4,157.3 244.9,157.6 245.3,157.9 245.7,158.1 246.2,158.4 246.6,158.7 247.0,158.9 247.5,159.2 247.9,159.4 248.3,159.7 248.8,159.9 249.2,160.2 249.6,160.4 250.1,160.7 250.5,160.9 250.9,161.1 251.4,161.4 251.8,161.6 252.3,161.8 252.7,162.1 253.1,162.3 253.6,162.5 254.0,162.7 254.4,163.0 254.9,163.2 255.3,163.4 255.7,163.6 256.2,163.8 256.6,164.0 257.0,164.2 257.5,164.4 257.9,164.6 258.4,164.8 258.8,165.0 259.2,165.2 259.7,165.4 260.1,165.6 260.5,165.8 261.0,166.0 261.4,166.2 261.8,166.4 262.3,166.6 262.7,166.7 263.1,166.9 263.6,167.1 264.0,167.3 264.4,167.4 264.9,167.6 265.3,167.8 265.8,167.9 266.2,168.1 266.6,168.2 267.1,168.4 267.5,168.5 267.9,168.7 268.4,168.8 268.8,169.0 269.2,169.1 269.7,169.2 270.1,169.4 270.5,169.5 271.0,169.6 271.4,169.8 271.9,169.9 272.3,170.0 272.7,170.1 273.2,170.3 273.6,170.4 274.0,170.5 274.5,170.6 274.9,170.7 275.3,170.8 275.8,170.9 276.2,171.0 276.6,171.1 277.1,171.2 277.5,171.3 278.0,171.4 278.4,171.5 278.8,171.6 279.3,171.7 279.7,171.7 280.1,171.8 280.6,171.9 281.0,172.0 281.4,172.1 281.9,172.1 282.3,172.2 282.7,172.3 283.2,172.3 283.6,172.4 284.0,172.5 284.5,172.5 284.9,172.6 285.4,172.7 285.8,172.7 286.2,172.8 286.7,172.8 287.1,172.9 287.5,172.9 288.0,173.0 288.4,173.0 288.8,173.0 289.3,173.1 289.7,173.1 290.1,173.1 290.6,173.2 291.0,173.2 291.5,173.2 291.9,173.3 292.3,173.3 292.8,173.3 293.2,173.3 293.6,173.4 294.1,173.4 294.5,173.4 294.9,173.4 295.4,173.4 295.8,173.4 296.2,173.5 296.7,173.5 297.1,173.5 297.5,173.5 298.0,173.5 298.4,173.5 298.9,173.5 299.3,173.5 299.7,173.5 300.2,173.5 300.6,173.5 301.0,173.5 301.5,173.5 301.9,173.5 302.3,173.5 302.8,173.5 303.2,173.5 303.6,173.5 304.1,173.4 304.5,173.4 305.0,173.4 305.4,173.4 305.8,173.4 306.3,173.3 306.7,173.3 307.1,173.3 307.6,173.3 308.0,173.3 308.4,173.2 308.9,173.2 309.3,173.2 309.7,173.2 310.2,173.1 310.6,173.1 311.0,173.1 311.5,173.1 311.9,173.1 312.4,173.1 312.8,173.0 313.2,173.0 313.7,173.0 314.1,173.0 314.5,173.0 315.0,173.0 315.4,172.9 315.8,172.9 316.3,172.9 316.7,172.9 317.1,172.9 317.6,172.8 318.0,172.8 318.5,172.8 318.9,172.8 319.3,172.7 319.8,172.7 320.2,172.7 320.6,172.7 321.1,172.6 321.5,172.6 321.9,172.6 322.4,172.5 322.8,172.5 323.2,172.5 323.7,172.4 324.1,172.4 324.5,172.4 325.0,172.3 325.4,172.3 325.9,172.3 326.3,172.2 326.7,172.2 327.2,172.2 327.6,172.1 328.0,172.1 328.5,172.0 328.9,172.0 329.3,172.0 329.8,171.9 330.2,171.9 330.6,171.8 331.1,171.8 331.5,171.8 332.0,171.7 332.4,171.7 332.8,171.6 333.3,171.6 333.7,171.5 334.1,171.5 334.6,171.4 335.0,171.4 335.4,171.3 335.9,171.3 336.3,171.2 336.7,171.2 337.2,171.1 337.6,171.1 338.0,171.0 338.5,170.9 338.9,170.9 339.4,170.8 339.8,170.8 340.2,170.7 340.7,170.6 341.1,170.6 341.5,170.5 342.0,170.4 342.4,170.4 342.8,170.3 343.3,170.2 343.7,170.2 344.1,170.1 344.6,170.0 345.0,170.0 345.5,169.9 345.9,169.8 346.3,169.8 346.8,169.7 347.2,169.6 347.6,169.5 348.1,169.5 348.5,169.4 348.9,169.3 349.4,169.3 349.8,169.2 350.2,169.1 350.7,169.0 351.1,168.9 351.5,168.9 352.0,168.8 352.4,168.7 352.9,168.6 353.3,168.6 353.7,168.5 354.2,168.4 354.6,168.3 355.0,168.2 355.5,168.2 355.9,168.1 356.3,168.0 356.8,167.9 357.2,167.8 357.6,167.8 358.1,167.7 358.5,167.6 359.0,167.5 359.4,167.4 359.8,167.4 360.3,167.3 360.7,167.2 361.1,167.1 361.6,167.1 362.0,167.0 362.4,166.9 362.9,166.8 363.3,166.8 363.7,166.7 364.2,166.6 364.6,166.6 365.1,166.5 365.5,166.4 365.9,166.4 366.4,166.3 366.8,166.2 367.2,166.2 367.7,166.1 368.1,166.0 368.5,166.0 369.0,165.9 369.4,165.8 369.8,165.8 370.3,165.7 370.7,165.6 371.1,165.6 371.6,165.5 372.0,165.5 372.5,165.4 372.9,165.3 373.3,165.3 373.8,165.2 374.2,165.1 374.6,165.1 375.1,165.0 375.5,164.9 375.9,164.9 376.4,164.8 376.8,164.7 377.2,164.7 377.7,164.6 378.1,164.5 378.6,164.5 379.0,164.4 379.4,164.3 379.9,164.3 380.3,164.2 380.7,164.1 381.2,164.1 381.6,164.0 382.0,163.9 382.5,163.9 382.9,163.8 383.3,163.8 383.8,163.7 384.2,163.6 384.6,163.6 385.1,163.5 385.5,163.5 386.0,163.4 386.4,163.3 386.8,163.3 387.3,163.2 387.7,163.2 388.1,163.1 388.6,163.1 389.0,163.0 389.4,162.9 389.9,162.9 390.3,162.8 390.7,162.8 391.2,162.7 391.6,162.6 392.1,162.6 392.5,162.5 392.9,162.5 393.4,162.4 393.8,162.3 394.2,162.3 394.7,162.2 395.1,162.1" fill="none" stroke="#00008b" stroke-width="2.8"/>
<polyline points="46.7,116.6 47.1,116.5 47.6,116.4 48.0,116.3 48.4,116.2 48.9,116.2 49.3,116.1 49.7,116.0 50.2,115.9 50.6,115.9 51.1,115.8 51.5,115.7 51.9,115.6 52.4,115.6 52.8,115.5 53.2,115.4 53.7,115.4 54.1,115.3 54.5,115.2 55.0,115.1 55.4,115.1 55.8,115.0 56.3,114.9 56.7,114.8 57.2,114.8 57.6,114.7 58.0,114.6 58.5,114.5 58.9,114.5 59.3,114.4 59.8,114.3 60.2,114.2 60.6,114.1 61.1,114.1 61.5,114.0 61.9,113.9 62.4,113.8 62.8,113.7 63.2,113.6 63.7,113.5 64.1,113.4 64.6,113.3 65.0,113.2 65.4,113.1 65.9,113.0 66.3,112.9 66.7,112.8 67.2,112.7 67.6,112.6 68.0,112.5 68.5,112.4 68.9,112.3 69.3,112.2 69.8,112.1 70.2,112.0 70.7,111.9 71.1,111.7 71.5,111.6 72.0,111.5 72.4,111.4 72.8,111.3 73.3,111.1 73.7,111.0 74.1,110.9 74.6,110.8 75.0,110.6 75.4,110.5 75.9,110.4 76.3,110.2 76.7,110.1 77.2,110.0 77.6,109.8 78.1,109.7 78.5,109.6 78.9,109.4 79.4,109.3 79.8,109.1 80.2,109.0 80.7,108.8 81.1,108.7 81.5,108.5 82.0,108.4 82.4,108.2 82.8,108.1 83.3,107.9 83.7,107.8 84.2,107.6 84.6,107.5 85.0,107.3 85.5,107.2 85.9,107.0 86.3,106.8 86.8,106.7 87.2,106.5 87.6,106.3 88.1,106.2 88.5,106.0 88.9,105.9 89.4,105.7 89.8,105.5 90.3,105.3 90.7,105.2 91.1,105.0 91.6,104.8 92.0,104.7 92.4,104.5 92.9,104.3 93.3,104.1 93.7,104.0 94.2,103.8 94.6,103.6 95.0,103.4 95.5,103.3 95.9,103.1 96.3,102.9 96.8,102.7 97.2,102.5 97.7,102.4 98.1,102.2 98.5,102.0 99.0,101.8 99.4,101.6 99.8,101.4 100.3,101.2 100.7,101.1 101.1,100.9 101.6,100.7 102.0,100.5 102.4,100.3 102.9,100.1 103.3,99.9 103.8,99.7 104.2,99.6 104.6,99.4 105.1,99.2 105.5,99.0 105.9,98.8 106.4,98.6 106.8,98.4 107.2,98.2 107.7,98.0 108.1,97.8 108.5,97.6 109.0,97.4 109.4,97.2 109.8,97.0 110.3,96.8 110.7,96.6 111.2,96.4 111.6,96.3 112.0,96.1 112.5,95.9 112.9,95.7 113.3,95.5 113.8,95.3 114.2,95.1 114.6,94.9 115.1,94.7 115.5,94.5 115.9,94.3 116.4,94.1 116.8,93.9 117.3,93.7 117.7,93.5 118.1,93.3 118.6,93.1 119.0,92.9 119.4,92.7 119.9,92.4 120.3,92.2 120.7,92.0 121.2,91.8 121.6,91.6 122.0,91.4 122.5,91.2 122.9,91.0 123.3,90.8 123.8,90.6 124.2,90.4 124.7,90.2 125.1,90.0 125.5,89.8 126.0,89.6 126.4,89.4 126.8,89.2 127.3,89.0 127.7,88.8 128.1,88.6 128.6,88.4 129.0,88.2 129.4,88.0 129.9,87.7 130.3,87.5 130.8,87.3 131.2,87.1 131.6,86.9 132.1,86.7 132.5,86.5 132.9,86.3 133.4,86.1 133.8,85.9 134.2,85.7 134.7,85.5 135.1,85.3 135.5,85.0 136.0,84.8 136.4,84.6 136.8,84.4 137.3,84.2 137.7,84.0 138.2,83.8 138.6,83.6 139.0,83.4 139.5,83.2 139.9,82.9 140.3,82.7 140.8,82.5 141.2,82.3 141.6,82.1 142.1,81.9 142.5,81.7 142.9,81.5 143.4,81.2 143.8,81.0 144.3,80.8 144.7,80.6 145.1,80.4 145.6,80.2 146.0,80.0 146.4,79.7 146.9,79.5 147.3,79.3 147.7,79.1 148.2,78.9 148.6,78.7 149.0,78.5 149.5,78.3 149.9,78.0 150.3,77.8 150.8,77.6 151.2,77.4 151.7,77.2 152.1,77.0 152.5,76.8 153.0,76.6 153.4,76.4 153.8,76.2 154.3,75.9 154.7,75.7 155.1,75.5 155.6,75.3 156.0,75.1 156.4,74.9 156.9,74.7 157.3,74.5 157.8,74.3 158.2,74.1 158.6,73.9 159.1,73.8 159.5,73.6 159.9,73.4 160.4,73.2 160.8,73.0 161.2,72.8 161.7,72.7 162.1,72.5 162.5,72.3 163.0,72.1 163.4,72.0 163.8,71.8 164.3,71.7 164.7,71.5 165.2,71.4 165.6,71.2 166.0,71.1 166.5,70.9 166.9,70.8 167.3,70.7 167.8,70.5 168.2,70.4 168.6,70.3 169.1,70.2 169.5,70.1 169.9,70.0 170.4,69.9 170.8,69.8 171.3,69.7 171.7,69.6 172.1,69.5 172.6,69.4 173.0,69.4 173.4,69.3 173.9,69.3 174.3,69.2 174.7,69.2 175.2,69.1 175.6,69.1 176.0,69.1 176.5,69.1 176.9,69.1 177.4,69.1 177.8,69.1 178.2,69.1 178.7,69.1 179.1,69.1 179.5,69.2 180.0,69.2 180.4,69.3 180.8,69.3 181.3,69.4 181.7,69.5 182.1,69.5 182.6,69.6 183.0,69.7 183.4,69.9 183.9,70.0 184.3,70.1 184.8,70.3 185.2,70.4 185.6,70.6 186.1,70.8 186.5,71.0 186.9,71.2 187.4,71.4 187.8,71.6 188.2,71.8 188.7,72.1 189.1,72.3 189.5,72.6 190.0,72.9 190.4,73.2 190.9,73.5 191.3,73.8 191.7,74.2 192.2,74.6 192.6,74.9 193.0,75.3 193.5,75.7 193.9,76.2 194.3,76.6 194.8,77.1 195.2,77.5 195.6,78.0 196.1,78.6 196.5,79.1 196.9,79.6 197.4,80.2 197.8,80.8 198.3,81.4 198.7,82.0 199.1,82.7 199.6,83.4 200.0,84.1 200.4,84.8 200.9,85.5 201.3,86.3 201.7,87.1 202.2,87.9 202.6,88.7 203.0,89.5 203.5,90.4 203.9,91.3 204.4,92.2 204.8,93.1 205.2,94.1 205.7,95.1 206.1,96.1 206.5,97.1 207.0,98.2 207.4,99.2 207.8,100.3 208.3,101.5 208.7,102.6 209.1,103.8 209.6,104.9 210.0,106.2 210.4,107.4 210.9,108.6 211.3,109.9 211.8,111.2 212.2,112.5 212.6,113.8 213.1,115.1 213.5,116.5 213.9,117.8 214.4,119.2 214.8,120.6 215.2,122.0 215.7,123.5 216.1,124.9 216.5,126.3 217.0,127.8 217.4,129.3 217.9,130.7 218.3,132.2 218.7,133.7 219.2,135.2 219.6,136.7 220.0,138.2 220.5,139.7 220.9,141.2 221.3,142.7 221.8,144.2 222.2,145.7 222.6,147.2 223.1,148.7 223.5,150.2 223.9,151.7 224.4,153.1 224.8,154.6 225.3,156.1 225.7,157.5 226.1,158.9 226.6,160.4 227.0,161.8 227.4,163.2 227.9,164.6 228.3,165.9 228.7,167.3 229.2,168.6 229.6,169.9 230.0,171.2 230.5,172.5 230.9,173.8 231.4,175.0 231.8,176.2 232.2,177.5 232.7,178.6 233.1,179.8 233.5,180.9 234.0,182.1 234.4,183.2 234.8,184.2 235.3,185.3 235.7,186.3 236.1,187.3 236.6,188.3 237.0,189.3 237.4,190.2 237.9,191.1 238.3,192.0 238.8,192.9 239.2,193.7 239.6,194.5 240.1,195.3 240.5,196.1 240.9,196.9 241.4,197.6 241.8,198.3 242.2,199.0 242.7,199.7 243.1,200.4 243.5,201.0 244.0,201.6 244.4,202.2 244.9,202.8 245.3,203.3 245.7,203.8 246.2,204.4 246.6,204.9 247.0,205.3 247.5,205.8 247.9,206.2 248.3,206.7 248.8,207.1 249.2,207.5 249.6,207.8 250.1,208.2 250.5,208.6 250.9,208.9 251.4,209.2 251.8,209.5 252.3,209.8 252.7,210.1 253.1,210.3 253.6,210.6 254.0,210.8 254.4,211.0 254.9,211.2 255.3,211.4 255.7,211.6 256.2,211.8 256.6,212.0 257.0,212.1 257.5,212.3 257.9,212.4 258.4,212.5 258.8,212.7 259.2,212.8 259.7,212.9 260.1,212.9 260.5,213.0 261.0,213.1 261.4,213.1 261.8,213.2 262.3,213.2 262.7,213.3 263.1,213.3 263.6,213.3 264.0,213.3 264.4,213.3 264.9,213.3 265.3,213.3 265.8,213.3 266.2,213.3 266.6,213.3 267.1,213.2 267.5,213.2 267.9,213.1 268.4,213.1 268.8,213.0 269.2,213.0 269.7,212.9 270.1,212.8 270.5,212.7 271.0,212.6 271.4,212.5 271.9,212.4 272.3,212.3 272.7,212.2 273.2,212.1 273.6,212.0 274.0,211.9 274.5,211.7 274.9,211.6 275.3,211.5 275.8,211.3 276.2,211.2 276.6,211.0 277.1,210.9 277.5,210.7 278.0,210.6 278.4,210.4 278.8,210.3 279.3,210.1 279.7,209.9 280.1,209.7 280.6,209.6 281.0,209.4 281.4,209.2 281.9,209.0 282.3,208.8 282.7,208.6 283.2,208.5 283.6,208.3 284.0,208.1 284.5,207.9 284.9,207.7 285.4,207.5 285.8,207.3 286.2,207.1 286.7,206.9 287.1,206.7 287.5,206.5 288.0,206.2 288.4,206.0 288.8,205.8 289.3,205.6 289.7,205.4 290.1,205.2 290.6,205.0 291.0,204.8 291.5,204.6 291.9,204.4 292.3,204.1 292.8,203.9 293.2,203.7 293.6,203.5 294.1,203.3 294.5,203.1 294.9,202.9 295.4,202.7 295.8,202.4 296.2,202.2 296.7,202.0 297.1,201.8 297.5,201.6 298.0,201.4 298.4,201.2 298.9,200.9 299.3,200.7 299.7,200.5 300.2,200.3 300.6,200.1 301.0,199.9 301.5,199.7 301.9,199.5 302.3,199.2 302.8,199.0 303.2,198.8 303.6,198.6 304.1,198.4 304.5,198.2 305.0,198.0 305.4,197.8 305.8,197.6 306.3,197.4 306.7,197.1 307.1,196.9 307.6,196.7 308.0,196.5 308.4,196.3 308.9,196.1 309.3,195.9 309.7,195.7 310.2,195.5 310.6,195.3 311.0,195.1 311.5,194.9 311.9,194.7 312.4,194.4 312.8,194.2 313.2,194.0 313.7,193.8 314.1,193.6 314.5,193.4 315.0,193.2 315.4,193.0 315.8,192.8 316.3,192.6 316.7,192.4 317.1,192.2 317.6,192.0 318.0,191.8 318.5,191.6 318.9,191.4 319.3,191.2 319.8,191.0 320.2,190.8 320.6,190.6 321.1,190.4 321.5,190.2 321.9,190.0 322.4,189.7 322.8,189.5 323.2,189.3 323.7,189.1 324.1,188.9 324.5,188.7 325.0,188.5 325.4,188.3 325.9,188.1 326.3,187.9 326.7,187.7 327.2,187.5 327.6,187.3 328.0,187.1 328.5,186.9 328.9,186.7 329.3,186.5 329.8,186.3 330.2,186.1 330.6,186.0 331.1,185.8 331.5,185.6 332.0,185.4 332.4,185.2 332.8,185.0 333.3,184.8 333.7,184.6 334.1,184.4 334.6,184.2 335.0,184.0 335.4,183.8 335.9,183.6 336.3,183.4 336.7,183.2 337.2,183.0 337.6,182.8 338.0,182.7 338.5,182.5 338.9,182.3 339.4,182.1 339.8,181.9 340.2,181.7 340.7,181.5 341.1,181.3 341.5,181.2 342.0,181.0 342.4,180.8 342.8,180.6 343.3,180.4 343.7,180.2 344.1,180.0 344.6,179.9 345.0,179.7 345.5,179.5 345.9,179.3 346.3,179.1 346.8,179.0 347.2,178.8 347.6,178.6 348.1,178.4 348.5,178.3 348.9,178.1 349.4,177.9 349.8,177.7 350.2,177.6 350.7,177.4 351.1,177.2 351.5,177.1 352.0,176.9 352.4,176.7 352.9,176.5 353.3,176.4 353.7,176.2 354.2,176.1 354.6,175.9 355.0,175.7 355.5,175.6 355.9,175.4 356.3,175.2 356.8,175.1 357.2,174.9 357.6,174.8 358.1,174.6 358.5,174.5 359.0,174.3 359.4,174.2 359.8,174.0 360.3,173.9 360.7,173.7 361.1,173.6 361.6,173.4 362.0,173.3 362.4,173.1 362.9,173.0 363.3,172.8 363.7,172.7 364.2,172.6 364.6,172.4 365.1,172.3 365.5,172.2 365.9,172.0 366.4,171.9 366.8,171.8 367.2,171.6 367.7,171.5 368.1,171.4 368.5,171.3 369.0,171.1 369.4,171.0 369.8,170.9 370.3,170.8 370.7,170.7 371.1,170.5 371.6,170.4 372.0,170.3 372.5,170.2 372.9,170.1 373.3,170.0 373.8,169.9 374.2,169.8 374.6,169.7 375.1,169.6 375.5,169.5 375.9,169.4 376.4,169.3 376.8,169.2 377.2,169.1 377.7,169.0 378.1,168.9 378.6,168.8 379.0,168.7 379.4,168.6 379.9,168.5 380.3,168.4 380.7,168.3 381.2,168.3 381.6,168.2 382.0,168.1 382.5,168.0 382.9,167.9 383.3,167.9 383.8,167.8 384.2,167.7 384.6,167.6 385.1,167.6 385.5,167.5 386.0,167.4 386.4,167.3 386.8,167.3 387.3,167.2 387.7,167.1 388.1,167.0 388.6,167.0 389.0,166.9 389.4,166.8 389.9,166.8 390.3,166.7 390.7,166.6 391.2,166.5 391.6,166.5 392.1,166.4 392.5,166.3 392.9,166.2 393.4,166.2 393.8,166.1 394.2,166.0 394.7,165.9 395.1,165.8" fill="none" stroke="#0e8b8b" stroke-width="2.8"/>
</g>
<g stroke="#000" stroke-width="1.5">
<line x1="46.7" y1="19.1" x2="51.9" y2="19.1"/>
<line x1="395.1" y1="19.1" x2="389.9" y2="19.1"/>
<line x1="46.7" y1="59.8" x2="51.9" y2="59.8"/>
<line x1="395.1" y1="59.8" x2="389.9" y2="59.8"/>
<line x1="46.7" y1="100.5" x2="51.9" y2="100.5"/>
<line x1="395.1" y1="100.5" x2="389.9" y2="100.5"/>
<line x1="46.7" y1="141.2" x2="51.9" y2="141.2"/>
<line x1="395.1" y1="141.2" x2="389.9" y2="141.2"/>
<line x1="46.7" y1="181.9" x2="51.9" y2="181.9"/>
<line x1="395.1" y1="181.9" x2="389.9" y2="181.9"/>
<line x1="46.7" y1="222.6" x2="51.9" y2="222.6"/>
<line x1="395.1" y1="222.6" x2="389.9" y2="222.6"/>
<line x1="46.7" y1="263.3" x2="51.9" y2="263.3"/>
<line x1="395.1" y1="263.3" x2="389.9" y2="263.3"/>
<line x1="46.7" y1="263.3" x2="46.7" y2="258.1"/>
<line x1="46.7" y1="19.1" x2="46.7" y2="24.3"/>
<line x1="133.8" y1="263.3" x2="133.8" y2="258.1"/>
<line x1="133.8" y1="19.1" x2="133.8" y2="24.3"/>
<line x1="220.9" y1="263.3" x2="220.9" y2="258.1"/>
<line x1="220.9" y1="19.1" x2="220.9" y2="24.3"/>
<line x1="308.0" y1="263.3" x2="308.0" y2="258.1"/>
<line x1="308.0" y1="19.1" x2="308.0" y2="24.3"/>
<line x1="395.1" y1="263.3" x2="395.1" y2="258.1"/>
<line x1="395.1" y1="19.1" x2="395.1" y2="24.3"/>
</g>
<rect x="46.7" y="18.9" width="348.35" height="244.1" fill="none" stroke="#000" stroke-width="1.9"/>
<g class="txt">
<g class="tk">
<text x="43.4" y="21.7" text-anchor="end">6</text>
<text x="43.4" y="62.4" text-anchor="end">4</text>
<text x="43.4" y="103.1" text-anchor="end">2</text>
<text x="43.4" y="143.8" text-anchor="end">0</text>
<text x="43.4" y="184.5" text-anchor="end"><tspan font-size="16.5" dy="1.1">&#8722;</tspan><tspan dx="0.7" dy="-1.1">2</tspan></text>
<text x="43.4" y="225.2" text-anchor="end"><tspan font-size="16.5" dy="1.1">&#8722;</tspan><tspan dx="0.7" dy="-1.1">4</tspan></text>
<text x="43.4" y="265.9" text-anchor="end"><tspan font-size="16.5" dy="1.1">&#8722;</tspan><tspan dx="0.7" dy="-1.1">6</tspan></text>
<text x="46.7" y="277.8" text-anchor="middle"><tspan font-size="16.5" dy="1.1">&#8722;</tspan><tspan dx="0.7" dy="-1.1">1.</tspan></text>
<text x="133.8" y="277.8" text-anchor="middle"><tspan font-size="16.5" dy="1.1">&#8722;</tspan><tspan dx="0.7" dy="-1.1">0.5</tspan></text>
<text x="220.9" y="277.8" text-anchor="middle">0.</text>
<text x="308.0" y="277.8" text-anchor="middle">0.5</text>
<text x="395.1" y="277.8" text-anchor="middle">1.</text>
</g>
<g class="tk">
<text x="58.0" y="165.3">&#916;<tspan class="it" font-size="10" dy="2">s</tspan><tspan dy="-2" dx="2.6">/T</tspan></text>
<text x="72.6" y="184.8" text-anchor="middle">14</text>
<line x1="97.2" y1="182.1" x2="126.2" y2="182.1" stroke="#0e8b8b" stroke-width="2.9"/>
<text x="72.6" y="199.0" text-anchor="middle">8</text>
<line x1="97.2" y1="196.3" x2="126.2" y2="196.3" stroke="#808080" stroke-width="2.9"/>
<text x="72.6" y="213.1" text-anchor="middle">5</text>
<line x1="97.2" y1="210.4" x2="126.2" y2="210.4" stroke="#00008b" stroke-width="2.9"/>
<text x="72.6" y="227.2" text-anchor="middle">2</text>
<line x1="97.2" y1="224.6" x2="126.2" y2="224.6" stroke="#8b0000" stroke-width="2.9"/>
</g>
<g font-size="20.7">
<text x="220.8" y="63.9">a/</text>
<text x="236.6" y="63.9" class="it">l</text>
<text x="241.4" y="67.3" class="it" font-size="14.5">q</text>
<text x="255.6" y="65.6" textLength="13.4" lengthAdjust="spacingAndGlyphs">=</text>
<text x="273.0" y="63.9">1.7</text>
<text x="307.5" y="63.5" font-size="20.4">(solid)</text>
<text x="281.9" y="96.8" font-size="24">&#8734;</text>
<text x="307.5" y="94.5" font-size="20.4">(dashed)</text>
</g>
<g font-size="20">
<text x="194.8" y="302.8" class="it">&#948;&#957;</text>
<text x="212.4" y="302.8">/</text>
<text x="217.1" y="302.8" class="it">&#948;&#957;</text>
<text x="235.4" y="304.4" font-size="14">m</text>
</g>
<g font-size="18.1">
<text transform="translate(15.4,172.1) rotate(-90)">Q[k<tspan font-size="13" dy="2.5">B</tspan><tspan dy="-2.5">/qe]</tspan></text>
</g>
</g>
</svg>
</body></html>
